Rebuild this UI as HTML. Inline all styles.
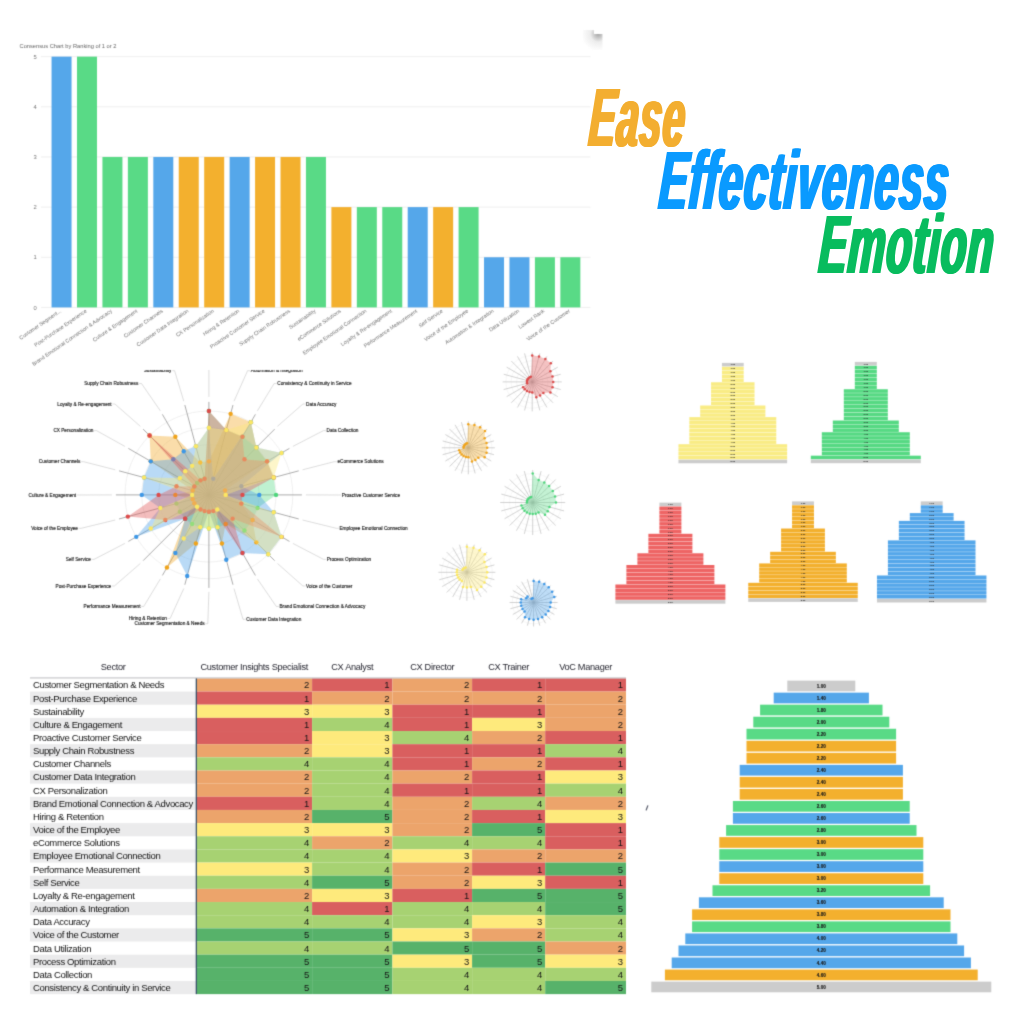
<!DOCTYPE html>
<html lang="en"><head><meta charset="utf-8"><title>Ease Effectiveness Emotion</title>
<style>
html,body{margin:0;padding:0;background:#fff;}
body{width:1024px;height:1024px;position:relative;overflow:hidden;font-family:"Liberation Sans",sans-serif;}
.abs{position:absolute;display:block;}
svg text{font-family:"Liberation Sans",sans-serif;}
.ttl{font-size:83px;line-height:normal;font-weight:bold;font-style:italic;transform-origin:0 75.1px;white-space:nowrap;}
.tbl{font-size:9.5px;color:#141414;letter-spacing:-0.36px;}
.tbl div{position:absolute;box-sizing:border-box;white-space:nowrap;}
.th{text-align:center;height:14px;line-height:14px;font-size:9.2px;color:#262630;letter-spacing:-0.3px;}
.td{height:13.26px;line-height:14.5px;overflow:hidden;}
.sec{padding-left:3px;text-align:left;}
.num{text-align:right;padding-right:3.2px;}
.hl{height:1px;background:#b9b9b9;}
.vl{width:1.2px;background:#2f4a63;}
.corner{left:583px;top:30px;width:19.5px;height:20px;background:radial-gradient(circle at 76% 20%,rgba(105,105,105,.6),rgba(165,165,165,.2) 36%,rgba(255,255,255,0) 78%);clip-path:polygon(0 0,56% 0,56% 20%,100% 20%,100% 100%,0 100%);}
.blur{position:absolute;left:0;top:0;width:1024px;height:1024px;overflow:hidden;filter:url(#soft);}
</style></head><body>
<svg width="0" height="0" style="position:absolute"><filter id="soft" x="0" y="0" width="100%" height="100%" color-interpolation-filters="sRGB"><feConvolveMatrix order="3" kernelMatrix="0.0192 0.1001 0.0192 0.1001 0.5228 0.1001 0.0192 0.1001 0.0192" edgeMode="duplicate"/></filter></svg>
<div class="blur">
<svg class="abs" style="left:0;top:0" width="640" height="375" viewBox="0 0 640 375">
<text x="19.5" y="48" font-size="5.72" fill="#666">Consensus Chart by Ranking of 1 or 2</text>
<line x1="41" x2="590.5" y1="307.4" y2="307.4" stroke="#efefef" stroke-width="1"/>
<text x="35" y="309.5" font-size="5.8" fill="#777" text-anchor="middle">0</text>
<line x1="41" x2="590.5" y1="257.25" y2="257.25" stroke="#efefef" stroke-width="1"/>
<text x="35" y="259.35" font-size="5.8" fill="#777" text-anchor="middle">1</text>
<line x1="41" x2="590.5" y1="207.1" y2="207.1" stroke="#efefef" stroke-width="1"/>
<text x="35" y="209.2" font-size="5.8" fill="#777" text-anchor="middle">2</text>
<line x1="41" x2="590.5" y1="156.95" y2="156.95" stroke="#efefef" stroke-width="1"/>
<text x="35" y="159.05" font-size="5.8" fill="#777" text-anchor="middle">3</text>
<line x1="41" x2="590.5" y1="106.8" y2="106.8" stroke="#efefef" stroke-width="1"/>
<text x="35" y="108.9" font-size="5.8" fill="#777" text-anchor="middle">4</text>
<line x1="41" x2="590.5" y1="56.65" y2="56.65" stroke="#efefef" stroke-width="1"/>
<text x="35" y="58.75" font-size="5.8" fill="#777" text-anchor="middle">5</text>
<rect x="51.55" y="56.65" width="20" height="250.75" fill="#55a7ea"/>
<rect x="76.99" y="56.65" width="20" height="250.75" fill="#59da86"/>
<rect x="102.43" y="156.95" width="20" height="150.45" fill="#59da86"/>
<rect x="127.87" y="156.95" width="20" height="150.45" fill="#59da86"/>
<rect x="153.31" y="156.95" width="20" height="150.45" fill="#55a7ea"/>
<rect x="178.75" y="156.95" width="20" height="150.45" fill="#f3b02e"/>
<rect x="204.19" y="156.95" width="20" height="150.45" fill="#f3b02e"/>
<rect x="229.63" y="156.95" width="20" height="150.45" fill="#55a7ea"/>
<rect x="255.07" y="156.95" width="20" height="150.45" fill="#f3b02e"/>
<rect x="280.51" y="156.95" width="20" height="150.45" fill="#f3b02e"/>
<rect x="305.95" y="156.95" width="20" height="150.45" fill="#59da86"/>
<rect x="331.39" y="207.1" width="20" height="100.3" fill="#f3b02e"/>
<rect x="356.83" y="207.1" width="20" height="100.3" fill="#59da86"/>
<rect x="382.27" y="207.1" width="20" height="100.3" fill="#59da86"/>
<rect x="407.71" y="207.1" width="20" height="100.3" fill="#55a7ea"/>
<rect x="433.15" y="207.1" width="20" height="100.3" fill="#f3b02e"/>
<rect x="458.59" y="207.1" width="20" height="100.3" fill="#59da86"/>
<rect x="484.03" y="257.25" width="20" height="50.15" fill="#55a7ea"/>
<rect x="509.47" y="257.25" width="20" height="50.15" fill="#55a7ea"/>
<rect x="534.91" y="257.25" width="20" height="50.15" fill="#59da86"/>
<rect x="560.35" y="257.25" width="20" height="50.15" fill="#59da86"/>
<text transform="translate(61.65,311.8) rotate(-34.5)" font-size="5.25" fill="#727272" text-anchor="end">Customer Segment...</text>
<text transform="translate(87.09,311.8) rotate(-34.5)" font-size="5.25" fill="#727272" text-anchor="end">Post-Purchase Experience</text>
<text transform="translate(112.53,311.8) rotate(-34.5)" font-size="5.25" fill="#727272" text-anchor="end">Brand Emotional Connection &amp; Advocacy</text>
<text transform="translate(137.97,311.8) rotate(-34.5)" font-size="5.25" fill="#727272" text-anchor="end">Culture &amp; Engagement</text>
<text transform="translate(163.41,311.8) rotate(-34.5)" font-size="5.25" fill="#727272" text-anchor="end">Customer Channels</text>
<text transform="translate(188.85,311.8) rotate(-34.5)" font-size="5.25" fill="#727272" text-anchor="end">Customer Data Integration</text>
<text transform="translate(214.29,311.8) rotate(-34.5)" font-size="5.25" fill="#727272" text-anchor="end">CX Personalization</text>
<text transform="translate(239.73,311.8) rotate(-34.5)" font-size="5.25" fill="#727272" text-anchor="end">Hiring &amp; Retention</text>
<text transform="translate(265.17,311.8) rotate(-34.5)" font-size="5.25" fill="#727272" text-anchor="end">Proactive Customer Service</text>
<text transform="translate(290.61,311.8) rotate(-34.5)" font-size="5.25" fill="#727272" text-anchor="end">Supply Chain Robustness</text>
<text transform="translate(316.05,311.8) rotate(-34.5)" font-size="5.25" fill="#727272" text-anchor="end">Sustainability</text>
<text transform="translate(341.49,311.8) rotate(-34.5)" font-size="5.25" fill="#727272" text-anchor="end">eCommerce Solutions</text>
<text transform="translate(366.93,311.8) rotate(-34.5)" font-size="5.25" fill="#727272" text-anchor="end">Employee Emotional Connection</text>
<text transform="translate(392.37,311.8) rotate(-34.5)" font-size="5.25" fill="#727272" text-anchor="end">Loyalty &amp; Re-engagement</text>
<text transform="translate(417.81,311.8) rotate(-34.5)" font-size="5.25" fill="#727272" text-anchor="end">Performance Measurement</text>
<text transform="translate(443.25,311.8) rotate(-34.5)" font-size="5.25" fill="#727272" text-anchor="end">Self Service</text>
<text transform="translate(468.69,311.8) rotate(-34.5)" font-size="5.25" fill="#727272" text-anchor="end">Voice of the Employee</text>
<text transform="translate(494.13,311.8) rotate(-34.5)" font-size="5.25" fill="#727272" text-anchor="end">Automation &amp; Integration</text>
<text transform="translate(519.57,311.8) rotate(-34.5)" font-size="5.25" fill="#727272" text-anchor="end">Data Utilization</text>
<text transform="translate(545.01,311.8) rotate(-34.5)" font-size="5.25" fill="#727272" text-anchor="end">Lowest Rank</text>
<text transform="translate(570.45,311.8) rotate(-34.5)" font-size="5.25" fill="#727272" text-anchor="end">Voice of the Customer</text>
</svg>
<div class="abs corner"></div>
<svg class="abs" style="left:0;top:369.7px" width="425" height="270.3" viewBox="0 369.7 425 270.3">
<circle cx="208.9" cy="494.6" r="16.78" fill="none" stroke="#ebebeb" stroke-width="0.75"/>
<circle cx="208.9" cy="494.6" r="33.56" fill="none" stroke="#ebebeb" stroke-width="0.75"/>
<circle cx="208.9" cy="494.6" r="50.34" fill="none" stroke="#ebebeb" stroke-width="0.75"/>
<circle cx="208.9" cy="494.6" r="67.12" fill="none" stroke="#ebebeb" stroke-width="0.75"/>
<circle cx="208.9" cy="494.6" r="83.9" fill="none" stroke="#ebebeb" stroke-width="0.75"/>
<line x1="208.9" y1="494.6" x2="208.9" y2="401.6" stroke="#8a8a8a" stroke-width="0.7"/>
<line x1="208.9" y1="494.6" x2="232.97" y2="404.77" stroke="#8a8a8a" stroke-width="0.7"/>
<polyline points="234.01,400.91 247.6,370.39 250,370.39" fill="none" stroke="#cfcfcf" stroke-width="0.7"/>
<text x="250.8" y="372.09" font-size="4.72" fill="#222" text-anchor="start" stroke="#222" stroke-width="0.15">Automation &amp; Integration</text>
<line x1="208.9" y1="494.6" x2="255.4" y2="414.06" stroke="#8a8a8a" stroke-width="0.7"/>
<polyline points="257.4,410.6 274.1,383.24 276.5,383.24" fill="none" stroke="#cfcfcf" stroke-width="0.7"/>
<text x="277.3" y="384.94" font-size="4.72" fill="#222" text-anchor="start" stroke="#222" stroke-width="0.15">Consistency &amp; Continuity in Service</text>
<line x1="208.9" y1="494.6" x2="274.66" y2="428.84" stroke="#8a8a8a" stroke-width="0.7"/>
<polyline points="277.49,426.01 302.9,403.7 305.3,403.7" fill="none" stroke="#cfcfcf" stroke-width="0.7"/>
<text x="306.1" y="405.4" font-size="4.72" fill="#222" text-anchor="start" stroke="#222" stroke-width="0.15">Data Accuracy</text>
<line x1="208.9" y1="494.6" x2="289.44" y2="448.1" stroke="#8a8a8a" stroke-width="0.7"/>
<polyline points="292.9,446.1 323.4,430.35 325.8,430.35" fill="none" stroke="#cfcfcf" stroke-width="0.7"/>
<text x="326.6" y="432.05" font-size="4.72" fill="#222" text-anchor="start" stroke="#222" stroke-width="0.15">Data Collection</text>
<line x1="208.9" y1="494.6" x2="298.73" y2="470.53" stroke="#8a8a8a" stroke-width="0.7"/>
<polyline points="302.59,469.49 334.2,461.39 336.6,461.39" fill="none" stroke="#cfcfcf" stroke-width="0.7"/>
<text x="337.4" y="463.09" font-size="4.72" fill="#222" text-anchor="start" stroke="#222" stroke-width="0.15">eCommerce Solutions</text>
<line x1="208.9" y1="494.6" x2="301.9" y2="494.6" stroke="#8a8a8a" stroke-width="0.7"/>
<polyline points="305.9,494.6 338.6,494.7 341,494.7" fill="none" stroke="#cfcfcf" stroke-width="0.7"/>
<text x="341.8" y="496.4" font-size="4.72" fill="#222" text-anchor="start" stroke="#222" stroke-width="0.15">Proactive Customer Service</text>
<line x1="208.9" y1="494.6" x2="298.73" y2="518.67" stroke="#8a8a8a" stroke-width="0.7"/>
<polyline points="302.59,519.71 336.3,528.01 338.7,528.01" fill="none" stroke="#cfcfcf" stroke-width="0.7"/>
<text x="339.5" y="529.71" font-size="4.72" fill="#222" text-anchor="start" stroke="#222" stroke-width="0.15">Employee Emotional Connection</text>
<line x1="208.9" y1="494.6" x2="289.44" y2="541.1" stroke="#8a8a8a" stroke-width="0.7"/>
<polyline points="292.9,543.1 323.5,559.05 325.9,559.05" fill="none" stroke="#cfcfcf" stroke-width="0.7"/>
<text x="326.7" y="560.75" font-size="4.72" fill="#222" text-anchor="start" stroke="#222" stroke-width="0.15">Process Optimization</text>
<line x1="208.9" y1="494.6" x2="274.66" y2="560.36" stroke="#8a8a8a" stroke-width="0.7"/>
<polyline points="277.49,563.19 302.9,585.7 305.3,585.7" fill="none" stroke="#cfcfcf" stroke-width="0.7"/>
<text x="306.1" y="587.4" font-size="4.72" fill="#222" text-anchor="start" stroke="#222" stroke-width="0.15">Voice of the Customer</text>
<line x1="208.9" y1="494.6" x2="255.4" y2="575.14" stroke="#8a8a8a" stroke-width="0.7"/>
<polyline points="257.4,578.6 276.3,606.16 278.7,606.16" fill="none" stroke="#cfcfcf" stroke-width="0.7"/>
<text x="279.5" y="607.86" font-size="4.72" fill="#222" text-anchor="start" stroke="#222" stroke-width="0.15">Brand Emotional Connection &amp; Advocacy</text>
<line x1="208.9" y1="494.6" x2="232.97" y2="584.43" stroke="#8a8a8a" stroke-width="0.7"/>
<polyline points="234.01,588.29 243,619.01 245.4,619.01" fill="none" stroke="#cfcfcf" stroke-width="0.7"/>
<text x="246.2" y="620.71" font-size="4.72" fill="#222" text-anchor="start" stroke="#222" stroke-width="0.15">Customer Data Integration</text>
<line x1="208.9" y1="494.6" x2="208.9" y2="587.6" stroke="#8a8a8a" stroke-width="0.7"/>
<polyline points="208.9,591.6 207.8,623.4 205.4,623.4" fill="none" stroke="#cfcfcf" stroke-width="0.7"/>
<text x="204.6" y="625.1" font-size="4.72" fill="#222" text-anchor="end" stroke="#222" stroke-width="0.15">Customer Segmentation &amp; Needs</text>
<line x1="208.9" y1="494.6" x2="184.83" y2="584.43" stroke="#8a8a8a" stroke-width="0.7"/>
<polyline points="183.79,588.29 170.1,618.21 167.7,618.21" fill="none" stroke="#cfcfcf" stroke-width="0.7"/>
<text x="166.9" y="619.91" font-size="4.72" fill="#222" text-anchor="end" stroke="#222" stroke-width="0.15">Hiring &amp; Retention</text>
<line x1="208.9" y1="494.6" x2="162.4" y2="575.14" stroke="#8a8a8a" stroke-width="0.7"/>
<polyline points="160.4,578.6 143.7,606.16 141.3,606.16" fill="none" stroke="#cfcfcf" stroke-width="0.7"/>
<text x="140.5" y="607.86" font-size="4.72" fill="#222" text-anchor="end" stroke="#222" stroke-width="0.15">Performance Measurement</text>
<line x1="208.9" y1="494.6" x2="143.14" y2="560.36" stroke="#8a8a8a" stroke-width="0.7"/>
<polyline points="140.31,563.19 114.4,585.7 112,585.7" fill="none" stroke="#cfcfcf" stroke-width="0.7"/>
<text x="111.2" y="587.4" font-size="4.72" fill="#222" text-anchor="end" stroke="#222" stroke-width="0.15">Post-Purchase Experience</text>
<line x1="208.9" y1="494.6" x2="128.36" y2="541.1" stroke="#8a8a8a" stroke-width="0.7"/>
<polyline points="124.9,543.1 94.1,559.05 91.7,559.05" fill="none" stroke="#cfcfcf" stroke-width="0.7"/>
<text x="90.9" y="560.75" font-size="4.72" fill="#222" text-anchor="end" stroke="#222" stroke-width="0.15">Self Service</text>
<line x1="208.9" y1="494.6" x2="119.07" y2="518.67" stroke="#8a8a8a" stroke-width="0.7"/>
<polyline points="115.21,519.71 81.2,528.01 78.8,528.01" fill="none" stroke="#cfcfcf" stroke-width="0.7"/>
<text x="78" y="529.71" font-size="4.72" fill="#222" text-anchor="end" stroke="#222" stroke-width="0.15">Voice of the Employee</text>
<line x1="208.9" y1="494.6" x2="115.9" y2="494.6" stroke="#8a8a8a" stroke-width="0.7"/>
<polyline points="111.9,494.6 79.4,494.7 77,494.7" fill="none" stroke="#cfcfcf" stroke-width="0.7"/>
<text x="76.2" y="496.4" font-size="4.72" fill="#222" text-anchor="end" stroke="#222" stroke-width="0.15">Culture &amp; Engagement</text>
<line x1="208.9" y1="494.6" x2="119.07" y2="470.53" stroke="#8a8a8a" stroke-width="0.7"/>
<polyline points="115.21,469.49 83.6,461.39 81.2,461.39" fill="none" stroke="#cfcfcf" stroke-width="0.7"/>
<text x="80.4" y="463.09" font-size="4.72" fill="#222" text-anchor="end" stroke="#222" stroke-width="0.15">Customer Channels</text>
<line x1="208.9" y1="494.6" x2="128.36" y2="448.1" stroke="#8a8a8a" stroke-width="0.7"/>
<polyline points="124.9,446.1 96.6,430.35 94.2,430.35" fill="none" stroke="#cfcfcf" stroke-width="0.7"/>
<text x="93.4" y="432.05" font-size="4.72" fill="#222" text-anchor="end" stroke="#222" stroke-width="0.15">CX Personalization</text>
<line x1="208.9" y1="494.6" x2="143.14" y2="428.84" stroke="#8a8a8a" stroke-width="0.7"/>
<polyline points="140.31,426.01 114.9,403.7 112.5,403.7" fill="none" stroke="#cfcfcf" stroke-width="0.7"/>
<text x="111.7" y="405.4" font-size="4.72" fill="#222" text-anchor="end" stroke="#222" stroke-width="0.15">Loyalty &amp; Re-engagement</text>
<line x1="208.9" y1="494.6" x2="162.4" y2="414.06" stroke="#8a8a8a" stroke-width="0.7"/>
<polyline points="160.4,410.6 141.5,383.24 139.1,383.24" fill="none" stroke="#cfcfcf" stroke-width="0.7"/>
<text x="138.3" y="384.94" font-size="4.72" fill="#222" text-anchor="end" stroke="#222" stroke-width="0.15">Supply Chain Robustness</text>
<line x1="208.9" y1="494.6" x2="184.83" y2="404.77" stroke="#8a8a8a" stroke-width="0.7"/>
<polyline points="183.79,400.91 174.6,370.39 172.2,370.39" fill="none" stroke="#cfcfcf" stroke-width="0.7"/>
<text x="171.4" y="372.09" font-size="4.72" fill="#222" text-anchor="end" stroke="#222" stroke-width="0.15">Sustainability</text>
<line x1="208.9" y1="369" x2="208.9" y2="396.6" stroke="#cfcfcf" stroke-width="0.7"/>
<polygon points="208.9,461.04 230.61,413.56 250.85,421.94 256.36,447.14 267.03,461.04 225.11,490.26 225.68,494.6 241.32,503.29 252.5,519.77 256.36,542.06 225.68,523.66 221.93,543.22 208.9,511.38 195.87,543.22 166.95,567.26 185.17,518.33 194.37,502.99 192.69,498.94 175.34,494.6 192.69,490.26 150.77,461.04 149.57,435.27 175.34,436.47 200.21,462.18" fill="#f2ab2a" fill-opacity="0.4"/>
<polygon points="208.9,410.7 226.27,429.77 242.46,436.47 256.36,447.14 267.03,461.04 273.73,477.23 276.02,494.6 257.52,507.63 252.5,519.77 244.5,530.2 225.68,523.66 217.59,527.02 208.9,528.16 200.21,527.02 192.12,523.66 185.17,518.33 179.84,511.38 176.48,503.29 192.12,494.6 192.69,490.26 194.37,486.21 197.03,482.73 200.51,480.07 204.56,478.39" fill="#5fdc8b" fill-opacity="0.4"/>
<polygon points="208.9,427.48 213.24,478.39 250.85,421.94 256.36,447.14 281.56,452.65 241.32,485.91 259.24,494.6 273.73,511.97 281.56,536.55 268.23,553.93 242.46,552.73 226.27,559.43 208.9,511.38 187.19,575.64 175.34,552.73 185.17,518.33 136.24,536.55 160.28,507.63 141.78,494.6 144.07,477.23 150.77,461.04 173.3,459 183.73,451 195.87,445.98" fill="#4fa3e8" fill-opacity="0.4"/>
<circle cx="208.9" cy="410.7" r="2.2" fill="#4fd67c"/>
<circle cx="226.27" cy="429.77" r="2.2" fill="#4fd67c"/>
<circle cx="242.46" cy="436.47" r="2.2" fill="#4fd67c"/>
<circle cx="256.36" cy="447.14" r="2.2" fill="#4fd67c"/>
<circle cx="267.03" cy="461.04" r="2.2" fill="#4fd67c"/>
<circle cx="273.73" cy="477.23" r="2.2" fill="#4fd67c"/>
<circle cx="276.02" cy="494.6" r="2.2" fill="#4fd67c"/>
<circle cx="257.52" cy="507.63" r="2.2" fill="#4fd67c"/>
<circle cx="252.5" cy="519.77" r="2.2" fill="#4fd67c"/>
<circle cx="244.5" cy="530.2" r="2.2" fill="#4fd67c"/>
<circle cx="225.68" cy="523.66" r="2.2" fill="#4fd67c"/>
<circle cx="217.59" cy="527.02" r="2.2" fill="#4fd67c"/>
<circle cx="208.9" cy="528.16" r="2.2" fill="#4fd67c"/>
<circle cx="200.21" cy="527.02" r="2.2" fill="#4fd67c"/>
<circle cx="192.12" cy="523.66" r="2.2" fill="#4fd67c"/>
<circle cx="185.17" cy="518.33" r="2.2" fill="#4fd67c"/>
<circle cx="179.84" cy="511.38" r="2.2" fill="#4fd67c"/>
<circle cx="176.48" cy="503.29" r="2.2" fill="#4fd67c"/>
<circle cx="192.12" cy="494.6" r="2.2" fill="#4fd67c"/>
<circle cx="192.69" cy="490.26" r="2.2" fill="#4fd67c"/>
<circle cx="194.37" cy="486.21" r="2.2" fill="#4fd67c"/>
<circle cx="197.03" cy="482.73" r="2.2" fill="#4fd67c"/>
<circle cx="200.51" cy="480.07" r="2.2" fill="#4fd67c"/>
<circle cx="204.56" cy="478.39" r="2.2" fill="#4fd67c"/>
<circle cx="208.9" cy="461.04" r="2.2" fill="#f0a41c"/>
<circle cx="230.61" cy="413.56" r="2.2" fill="#f0a41c"/>
<circle cx="250.85" cy="421.94" r="2.2" fill="#f0a41c"/>
<circle cx="256.36" cy="447.14" r="2.2" fill="#f0a41c"/>
<circle cx="267.03" cy="461.04" r="2.2" fill="#f0a41c"/>
<circle cx="225.11" cy="490.26" r="2.2" fill="#f0a41c"/>
<circle cx="225.68" cy="494.6" r="2.2" fill="#f0a41c"/>
<circle cx="241.32" cy="503.29" r="2.2" fill="#f0a41c"/>
<circle cx="252.5" cy="519.77" r="2.2" fill="#f0a41c"/>
<circle cx="256.36" cy="542.06" r="2.2" fill="#f0a41c"/>
<circle cx="225.68" cy="523.66" r="2.2" fill="#f0a41c"/>
<circle cx="221.93" cy="543.22" r="2.2" fill="#f0a41c"/>
<circle cx="208.9" cy="511.38" r="2.2" fill="#f0a41c"/>
<circle cx="195.87" cy="543.22" r="2.2" fill="#f0a41c"/>
<circle cx="166.95" cy="567.26" r="2.2" fill="#f0a41c"/>
<circle cx="185.17" cy="518.33" r="2.2" fill="#f0a41c"/>
<circle cx="194.37" cy="502.99" r="2.2" fill="#f0a41c"/>
<circle cx="192.69" cy="498.94" r="2.2" fill="#f0a41c"/>
<circle cx="175.34" cy="494.6" r="2.2" fill="#f0a41c"/>
<circle cx="192.69" cy="490.26" r="2.2" fill="#f0a41c"/>
<circle cx="150.77" cy="461.04" r="2.2" fill="#f0a41c"/>
<circle cx="149.57" cy="435.27" r="2.2" fill="#f0a41c"/>
<circle cx="175.34" cy="436.47" r="2.2" fill="#f0a41c"/>
<circle cx="200.21" cy="462.18" r="2.2" fill="#f0a41c"/>
<circle cx="208.9" cy="427.48" r="2.2" fill="#3d97e6"/>
<circle cx="213.24" cy="478.39" r="2.2" fill="#3d97e6"/>
<circle cx="250.85" cy="421.94" r="2.2" fill="#3d97e6"/>
<circle cx="256.36" cy="447.14" r="2.2" fill="#3d97e6"/>
<circle cx="281.56" cy="452.65" r="2.2" fill="#3d97e6"/>
<circle cx="241.32" cy="485.91" r="2.2" fill="#3d97e6"/>
<circle cx="259.24" cy="494.6" r="2.2" fill="#3d97e6"/>
<circle cx="273.73" cy="511.97" r="2.2" fill="#3d97e6"/>
<circle cx="281.56" cy="536.55" r="2.2" fill="#3d97e6"/>
<circle cx="268.23" cy="553.93" r="2.2" fill="#3d97e6"/>
<circle cx="242.46" cy="552.73" r="2.2" fill="#3d97e6"/>
<circle cx="226.27" cy="559.43" r="2.2" fill="#3d97e6"/>
<circle cx="208.9" cy="511.38" r="2.2" fill="#3d97e6"/>
<circle cx="187.19" cy="575.64" r="2.2" fill="#3d97e6"/>
<circle cx="175.34" cy="552.73" r="2.2" fill="#3d97e6"/>
<circle cx="185.17" cy="518.33" r="2.2" fill="#3d97e6"/>
<circle cx="136.24" cy="536.55" r="2.2" fill="#3d97e6"/>
<circle cx="160.28" cy="507.63" r="2.2" fill="#3d97e6"/>
<circle cx="141.78" cy="494.6" r="2.2" fill="#3d97e6"/>
<circle cx="144.07" cy="477.23" r="2.2" fill="#3d97e6"/>
<circle cx="150.77" cy="461.04" r="2.2" fill="#3d97e6"/>
<circle cx="173.3" cy="459" r="2.2" fill="#3d97e6"/>
<circle cx="183.73" cy="451" r="2.2" fill="#3d97e6"/>
<circle cx="195.87" cy="445.98" r="2.2" fill="#3d97e6"/>
<polygon points="208.9,410.7 226.27,429.77 242.46,436.47 244.5,459 267.03,461.04 273.73,477.23 242.46,494.6 241.32,503.29 281.56,536.55 232.63,518.33 242.46,552.73 213.24,510.81 208.9,511.38 204.56,510.81 200.51,509.13 185.17,518.33 165.3,519.77 127.86,516.31 158.56,494.6 176.48,485.91 194.37,486.21 149.57,435.27 200.51,480.07 204.56,478.39" fill="#e05a5a" fill-opacity="0.4"/>
<circle cx="208.9" cy="410.7" r="2.2" fill="#dc4c4c"/>
<circle cx="226.27" cy="429.77" r="2.2" fill="#dc4c4c"/>
<circle cx="242.46" cy="436.47" r="2.2" fill="#dc4c4c"/>
<circle cx="244.5" cy="459" r="2.2" fill="#dc4c4c"/>
<circle cx="267.03" cy="461.04" r="2.2" fill="#dc4c4c"/>
<circle cx="273.73" cy="477.23" r="2.2" fill="#dc4c4c"/>
<circle cx="242.46" cy="494.6" r="2.2" fill="#dc4c4c"/>
<circle cx="241.32" cy="503.29" r="2.2" fill="#dc4c4c"/>
<circle cx="281.56" cy="536.55" r="2.2" fill="#dc4c4c"/>
<circle cx="232.63" cy="518.33" r="2.2" fill="#dc4c4c"/>
<circle cx="242.46" cy="552.73" r="2.2" fill="#dc4c4c"/>
<circle cx="213.24" cy="510.81" r="2.2" fill="#dc4c4c"/>
<circle cx="208.9" cy="511.38" r="2.2" fill="#dc4c4c"/>
<circle cx="204.56" cy="510.81" r="2.2" fill="#dc4c4c"/>
<circle cx="200.51" cy="509.13" r="2.2" fill="#dc4c4c"/>
<circle cx="185.17" cy="518.33" r="2.2" fill="#dc4c4c"/>
<circle cx="165.3" cy="519.77" r="2.2" fill="#dc4c4c"/>
<circle cx="127.86" cy="516.31" r="2.2" fill="#dc4c4c"/>
<circle cx="158.56" cy="494.6" r="2.2" fill="#dc4c4c"/>
<circle cx="176.48" cy="485.91" r="2.2" fill="#dc4c4c"/>
<circle cx="194.37" cy="486.21" r="2.2" fill="#dc4c4c"/>
<circle cx="149.57" cy="435.27" r="2.2" fill="#dc4c4c"/>
<circle cx="200.51" cy="480.07" r="2.2" fill="#dc4c4c"/>
<circle cx="204.56" cy="478.39" r="2.2" fill="#dc4c4c"/>
<polygon points="208.9,427.48 226.27,429.77 250.85,421.94 256.36,447.14 281.56,452.65 273.73,477.23 225.68,494.6 273.73,511.97 281.56,536.55 268.23,553.93 217.29,509.13 217.59,527.02 208.9,528.16 200.21,527.02 183.73,538.2 197.03,506.47 150.77,528.16 160.28,507.63 192.12,494.6 144.07,477.23 179.84,477.82 185.17,470.87 192.12,465.54 195.87,445.98" fill="#fbe97a" fill-opacity="0.4"/>
<circle cx="208.9" cy="427.48" r="2.2" fill="#fbe764"/>
<circle cx="226.27" cy="429.77" r="2.2" fill="#fbe764"/>
<circle cx="250.85" cy="421.94" r="2.2" fill="#fbe764"/>
<circle cx="256.36" cy="447.14" r="2.2" fill="#fbe764"/>
<circle cx="281.56" cy="452.65" r="2.2" fill="#fbe764"/>
<circle cx="273.73" cy="477.23" r="2.2" fill="#fbe764"/>
<circle cx="225.68" cy="494.6" r="2.2" fill="#fbe764"/>
<circle cx="273.73" cy="511.97" r="2.2" fill="#fbe764"/>
<circle cx="281.56" cy="536.55" r="2.2" fill="#fbe764"/>
<circle cx="268.23" cy="553.93" r="2.2" fill="#fbe764"/>
<circle cx="217.29" cy="509.13" r="2.2" fill="#fbe764"/>
<circle cx="217.59" cy="527.02" r="2.2" fill="#fbe764"/>
<circle cx="208.9" cy="528.16" r="2.2" fill="#fbe764"/>
<circle cx="200.21" cy="527.02" r="2.2" fill="#fbe764"/>
<circle cx="183.73" cy="538.2" r="2.2" fill="#fbe764"/>
<circle cx="197.03" cy="506.47" r="2.2" fill="#fbe764"/>
<circle cx="150.77" cy="528.16" r="2.2" fill="#fbe764"/>
<circle cx="160.28" cy="507.63" r="2.2" fill="#fbe764"/>
<circle cx="192.12" cy="494.6" r="2.2" fill="#fbe764"/>
<circle cx="144.07" cy="477.23" r="2.2" fill="#fbe764"/>
<circle cx="179.84" cy="477.82" r="2.2" fill="#fbe764"/>
<circle cx="185.17" cy="470.87" r="2.2" fill="#fbe764"/>
<circle cx="192.12" cy="465.54" r="2.2" fill="#fbe764"/>
<circle cx="195.87" cy="445.98" r="2.2" fill="#fbe764"/>
</svg>
<svg class="abs" style="left:420px;top:340px" width="200" height="300" viewBox="420 340 200 300">
<circle cx="532.2" cy="381.9" r="5.27" fill="none" stroke="#efefef" stroke-width="0.5"/>
<circle cx="532.2" cy="381.9" r="10.54" fill="none" stroke="#efefef" stroke-width="0.5"/>
<circle cx="532.2" cy="381.9" r="15.8" fill="none" stroke="#efefef" stroke-width="0.5"/>
<circle cx="532.2" cy="381.9" r="21.07" fill="none" stroke="#efefef" stroke-width="0.5"/>
<circle cx="532.2" cy="381.9" r="26.34" fill="none" stroke="#efefef" stroke-width="0.5"/>
<line x1="532.2" y1="381.9" x2="532.2" y2="352.4" stroke="#b4b4b4" stroke-width="0.6"/>
<line x1="532.2" y1="381.9" x2="539.84" y2="353.41" stroke="#b4b4b4" stroke-width="0.6"/>
<line x1="532.2" y1="381.9" x2="546.95" y2="356.35" stroke="#b4b4b4" stroke-width="0.6"/>
<line x1="532.2" y1="381.9" x2="553.06" y2="361.04" stroke="#b4b4b4" stroke-width="0.6"/>
<line x1="532.2" y1="381.9" x2="557.75" y2="367.15" stroke="#b4b4b4" stroke-width="0.6"/>
<line x1="532.2" y1="381.9" x2="560.69" y2="374.26" stroke="#b4b4b4" stroke-width="0.6"/>
<line x1="532.2" y1="381.9" x2="561.7" y2="381.9" stroke="#b4b4b4" stroke-width="0.6"/>
<line x1="532.2" y1="381.9" x2="560.69" y2="389.54" stroke="#b4b4b4" stroke-width="0.6"/>
<line x1="532.2" y1="381.9" x2="557.75" y2="396.65" stroke="#b4b4b4" stroke-width="0.6"/>
<line x1="532.2" y1="381.9" x2="553.06" y2="402.76" stroke="#b4b4b4" stroke-width="0.6"/>
<line x1="532.2" y1="381.9" x2="546.95" y2="407.45" stroke="#b4b4b4" stroke-width="0.6"/>
<line x1="532.2" y1="381.9" x2="539.84" y2="410.39" stroke="#b4b4b4" stroke-width="0.6"/>
<line x1="532.2" y1="381.9" x2="532.2" y2="411.4" stroke="#b4b4b4" stroke-width="0.6"/>
<line x1="532.2" y1="381.9" x2="524.56" y2="410.39" stroke="#b4b4b4" stroke-width="0.6"/>
<line x1="532.2" y1="381.9" x2="517.45" y2="407.45" stroke="#b4b4b4" stroke-width="0.6"/>
<line x1="532.2" y1="381.9" x2="511.34" y2="402.76" stroke="#b4b4b4" stroke-width="0.6"/>
<line x1="532.2" y1="381.9" x2="506.65" y2="396.65" stroke="#b4b4b4" stroke-width="0.6"/>
<line x1="532.2" y1="381.9" x2="503.71" y2="389.54" stroke="#b4b4b4" stroke-width="0.6"/>
<line x1="532.2" y1="381.9" x2="502.7" y2="381.9" stroke="#b4b4b4" stroke-width="0.6"/>
<line x1="532.2" y1="381.9" x2="503.71" y2="374.26" stroke="#b4b4b4" stroke-width="0.6"/>
<line x1="532.2" y1="381.9" x2="506.65" y2="367.15" stroke="#b4b4b4" stroke-width="0.6"/>
<line x1="532.2" y1="381.9" x2="511.34" y2="361.04" stroke="#b4b4b4" stroke-width="0.6"/>
<line x1="532.2" y1="381.9" x2="517.45" y2="356.35" stroke="#b4b4b4" stroke-width="0.6"/>
<line x1="532.2" y1="381.9" x2="524.56" y2="353.41" stroke="#b4b4b4" stroke-width="0.6"/>
<polygon points="532.2,355.56 539.02,356.46 545.37,359.09 550.82,363.28 550.45,371.36 552.55,376.45 553.27,381.9 552.55,387.35 550.45,392.44 543.37,393.07 540.1,395.59 536.29,397.17 532.2,392.44 529.47,392.08 526.93,391.02 524.75,389.35 523.08,387.17 527.11,383.26 526.93,381.9 527.11,380.54 527.64,379.27 528.48,378.18 529.57,377.34 530.84,376.81" fill="#e05a5a" fill-opacity="0.37"/>
<circle cx="532.2" cy="355.56" r="1.25" fill="#dc4c4c"/>
<circle cx="539.02" cy="356.46" r="1.25" fill="#dc4c4c"/>
<circle cx="545.37" cy="359.09" r="1.25" fill="#dc4c4c"/>
<circle cx="550.82" cy="363.28" r="1.25" fill="#dc4c4c"/>
<circle cx="550.45" cy="371.36" r="1.25" fill="#dc4c4c"/>
<circle cx="552.55" cy="376.45" r="1.25" fill="#dc4c4c"/>
<circle cx="553.27" cy="381.9" r="1.25" fill="#dc4c4c"/>
<circle cx="552.55" cy="387.35" r="1.25" fill="#dc4c4c"/>
<circle cx="550.45" cy="392.44" r="1.25" fill="#dc4c4c"/>
<circle cx="543.37" cy="393.07" r="1.25" fill="#dc4c4c"/>
<circle cx="540.1" cy="395.59" r="1.25" fill="#dc4c4c"/>
<circle cx="536.29" cy="397.17" r="1.25" fill="#dc4c4c"/>
<circle cx="532.2" cy="392.44" r="1.25" fill="#dc4c4c"/>
<circle cx="529.47" cy="392.08" r="1.25" fill="#dc4c4c"/>
<circle cx="526.93" cy="391.02" r="1.25" fill="#dc4c4c"/>
<circle cx="524.75" cy="389.35" r="1.25" fill="#dc4c4c"/>
<circle cx="523.08" cy="387.17" r="1.25" fill="#dc4c4c"/>
<circle cx="527.11" cy="383.26" r="1.25" fill="#dc4c4c"/>
<circle cx="526.93" cy="381.9" r="1.25" fill="#dc4c4c"/>
<circle cx="527.11" cy="380.54" r="1.25" fill="#dc4c4c"/>
<circle cx="527.64" cy="379.27" r="1.25" fill="#dc4c4c"/>
<circle cx="528.48" cy="378.18" r="1.25" fill="#dc4c4c"/>
<circle cx="529.57" cy="377.34" r="1.25" fill="#dc4c4c"/>
<circle cx="530.84" cy="376.81" r="1.25" fill="#dc4c4c"/>
<circle cx="468.3" cy="447.8" r="4.73" fill="none" stroke="#efefef" stroke-width="0.5"/>
<circle cx="468.3" cy="447.8" r="9.46" fill="none" stroke="#efefef" stroke-width="0.5"/>
<circle cx="468.3" cy="447.8" r="14.2" fill="none" stroke="#efefef" stroke-width="0.5"/>
<circle cx="468.3" cy="447.8" r="18.93" fill="none" stroke="#efefef" stroke-width="0.5"/>
<circle cx="468.3" cy="447.8" r="23.66" fill="none" stroke="#efefef" stroke-width="0.5"/>
<line x1="468.3" y1="447.8" x2="468.3" y2="421.3" stroke="#b4b4b4" stroke-width="0.6"/>
<line x1="468.3" y1="447.8" x2="475.16" y2="422.2" stroke="#b4b4b4" stroke-width="0.6"/>
<line x1="468.3" y1="447.8" x2="481.55" y2="424.85" stroke="#b4b4b4" stroke-width="0.6"/>
<line x1="468.3" y1="447.8" x2="487.04" y2="429.06" stroke="#b4b4b4" stroke-width="0.6"/>
<line x1="468.3" y1="447.8" x2="491.25" y2="434.55" stroke="#b4b4b4" stroke-width="0.6"/>
<line x1="468.3" y1="447.8" x2="493.9" y2="440.94" stroke="#b4b4b4" stroke-width="0.6"/>
<line x1="468.3" y1="447.8" x2="494.8" y2="447.8" stroke="#b4b4b4" stroke-width="0.6"/>
<line x1="468.3" y1="447.8" x2="493.9" y2="454.66" stroke="#b4b4b4" stroke-width="0.6"/>
<line x1="468.3" y1="447.8" x2="491.25" y2="461.05" stroke="#b4b4b4" stroke-width="0.6"/>
<line x1="468.3" y1="447.8" x2="487.04" y2="466.54" stroke="#b4b4b4" stroke-width="0.6"/>
<line x1="468.3" y1="447.8" x2="481.55" y2="470.75" stroke="#b4b4b4" stroke-width="0.6"/>
<line x1="468.3" y1="447.8" x2="475.16" y2="473.4" stroke="#b4b4b4" stroke-width="0.6"/>
<line x1="468.3" y1="447.8" x2="468.3" y2="474.3" stroke="#b4b4b4" stroke-width="0.6"/>
<line x1="468.3" y1="447.8" x2="461.44" y2="473.4" stroke="#b4b4b4" stroke-width="0.6"/>
<line x1="468.3" y1="447.8" x2="455.05" y2="470.75" stroke="#b4b4b4" stroke-width="0.6"/>
<line x1="468.3" y1="447.8" x2="449.56" y2="466.54" stroke="#b4b4b4" stroke-width="0.6"/>
<line x1="468.3" y1="447.8" x2="445.35" y2="461.05" stroke="#b4b4b4" stroke-width="0.6"/>
<line x1="468.3" y1="447.8" x2="442.7" y2="454.66" stroke="#b4b4b4" stroke-width="0.6"/>
<line x1="468.3" y1="447.8" x2="441.8" y2="447.8" stroke="#b4b4b4" stroke-width="0.6"/>
<line x1="468.3" y1="447.8" x2="442.7" y2="440.94" stroke="#b4b4b4" stroke-width="0.6"/>
<line x1="468.3" y1="447.8" x2="445.35" y2="434.55" stroke="#b4b4b4" stroke-width="0.6"/>
<line x1="468.3" y1="447.8" x2="449.56" y2="429.06" stroke="#b4b4b4" stroke-width="0.6"/>
<line x1="468.3" y1="447.8" x2="455.05" y2="424.85" stroke="#b4b4b4" stroke-width="0.6"/>
<line x1="468.3" y1="447.8" x2="461.44" y2="422.2" stroke="#b4b4b4" stroke-width="0.6"/>
<polygon points="468.3,424.14 474.42,424.95 480.13,427.31 485.03,431.07 484.69,438.34 486.58,442.9 487.23,447.8 486.58,452.7 484.69,457.26 478.34,457.84 475.4,460.09 471.97,461.51 468.3,457.26 465.85,456.94 463.57,456 461.61,454.49 460.1,452.53 459.16,450.25 463.57,447.8 463.73,446.58 464.2,445.43 464.95,444.45 465.93,443.7 467.08,443.23" fill="#f2ab2a" fill-opacity="0.37"/>
<circle cx="468.3" cy="424.14" r="1.25" fill="#f0a41c"/>
<circle cx="474.42" cy="424.95" r="1.25" fill="#f0a41c"/>
<circle cx="480.13" cy="427.31" r="1.25" fill="#f0a41c"/>
<circle cx="485.03" cy="431.07" r="1.25" fill="#f0a41c"/>
<circle cx="484.69" cy="438.34" r="1.25" fill="#f0a41c"/>
<circle cx="486.58" cy="442.9" r="1.25" fill="#f0a41c"/>
<circle cx="487.23" cy="447.8" r="1.25" fill="#f0a41c"/>
<circle cx="486.58" cy="452.7" r="1.25" fill="#f0a41c"/>
<circle cx="484.69" cy="457.26" r="1.25" fill="#f0a41c"/>
<circle cx="478.34" cy="457.84" r="1.25" fill="#f0a41c"/>
<circle cx="475.4" cy="460.09" r="1.25" fill="#f0a41c"/>
<circle cx="471.97" cy="461.51" r="1.25" fill="#f0a41c"/>
<circle cx="468.3" cy="457.26" r="1.25" fill="#f0a41c"/>
<circle cx="465.85" cy="456.94" r="1.25" fill="#f0a41c"/>
<circle cx="463.57" cy="456" r="1.25" fill="#f0a41c"/>
<circle cx="461.61" cy="454.49" r="1.25" fill="#f0a41c"/>
<circle cx="460.1" cy="452.53" r="1.25" fill="#f0a41c"/>
<circle cx="459.16" cy="450.25" r="1.25" fill="#f0a41c"/>
<circle cx="463.57" cy="447.8" r="1.25" fill="#f0a41c"/>
<circle cx="463.73" cy="446.58" r="1.25" fill="#f0a41c"/>
<circle cx="464.2" cy="445.43" r="1.25" fill="#f0a41c"/>
<circle cx="464.95" cy="444.45" r="1.25" fill="#f0a41c"/>
<circle cx="465.93" cy="443.7" r="1.25" fill="#f0a41c"/>
<circle cx="467.08" cy="443.23" r="1.25" fill="#f0a41c"/>
<circle cx="532.7" cy="502.5" r="5.8" fill="none" stroke="#efefef" stroke-width="0.5"/>
<circle cx="532.7" cy="502.5" r="11.61" fill="none" stroke="#efefef" stroke-width="0.5"/>
<circle cx="532.7" cy="502.5" r="17.41" fill="none" stroke="#efefef" stroke-width="0.5"/>
<circle cx="532.7" cy="502.5" r="23.21" fill="none" stroke="#efefef" stroke-width="0.5"/>
<circle cx="532.7" cy="502.5" r="29.02" fill="none" stroke="#efefef" stroke-width="0.5"/>
<line x1="532.7" y1="502.5" x2="532.7" y2="470" stroke="#b4b4b4" stroke-width="0.6"/>
<line x1="532.7" y1="502.5" x2="541.11" y2="471.11" stroke="#b4b4b4" stroke-width="0.6"/>
<line x1="532.7" y1="502.5" x2="548.95" y2="474.35" stroke="#b4b4b4" stroke-width="0.6"/>
<line x1="532.7" y1="502.5" x2="555.68" y2="479.52" stroke="#b4b4b4" stroke-width="0.6"/>
<line x1="532.7" y1="502.5" x2="560.85" y2="486.25" stroke="#b4b4b4" stroke-width="0.6"/>
<line x1="532.7" y1="502.5" x2="564.09" y2="494.09" stroke="#b4b4b4" stroke-width="0.6"/>
<line x1="532.7" y1="502.5" x2="565.2" y2="502.5" stroke="#b4b4b4" stroke-width="0.6"/>
<line x1="532.7" y1="502.5" x2="564.09" y2="510.91" stroke="#b4b4b4" stroke-width="0.6"/>
<line x1="532.7" y1="502.5" x2="560.85" y2="518.75" stroke="#b4b4b4" stroke-width="0.6"/>
<line x1="532.7" y1="502.5" x2="555.68" y2="525.48" stroke="#b4b4b4" stroke-width="0.6"/>
<line x1="532.7" y1="502.5" x2="548.95" y2="530.65" stroke="#b4b4b4" stroke-width="0.6"/>
<line x1="532.7" y1="502.5" x2="541.11" y2="533.89" stroke="#b4b4b4" stroke-width="0.6"/>
<line x1="532.7" y1="502.5" x2="532.7" y2="535" stroke="#b4b4b4" stroke-width="0.6"/>
<line x1="532.7" y1="502.5" x2="524.29" y2="533.89" stroke="#b4b4b4" stroke-width="0.6"/>
<line x1="532.7" y1="502.5" x2="516.45" y2="530.65" stroke="#b4b4b4" stroke-width="0.6"/>
<line x1="532.7" y1="502.5" x2="509.72" y2="525.48" stroke="#b4b4b4" stroke-width="0.6"/>
<line x1="532.7" y1="502.5" x2="504.55" y2="518.75" stroke="#b4b4b4" stroke-width="0.6"/>
<line x1="532.7" y1="502.5" x2="501.31" y2="510.91" stroke="#b4b4b4" stroke-width="0.6"/>
<line x1="532.7" y1="502.5" x2="500.2" y2="502.5" stroke="#b4b4b4" stroke-width="0.6"/>
<line x1="532.7" y1="502.5" x2="501.31" y2="494.09" stroke="#b4b4b4" stroke-width="0.6"/>
<line x1="532.7" y1="502.5" x2="504.55" y2="486.25" stroke="#b4b4b4" stroke-width="0.6"/>
<line x1="532.7" y1="502.5" x2="509.72" y2="479.52" stroke="#b4b4b4" stroke-width="0.6"/>
<line x1="532.7" y1="502.5" x2="516.45" y2="474.35" stroke="#b4b4b4" stroke-width="0.6"/>
<line x1="532.7" y1="502.5" x2="524.29" y2="471.11" stroke="#b4b4b4" stroke-width="0.6"/>
<polygon points="532.7,473.48 538.71,480.08 544.31,482.4 549.11,486.09 552.8,490.89 555.12,496.49 555.91,502.5 549.52,507.01 547.78,511.21 545.01,514.81 538.5,512.55 535.7,513.71 532.7,514.11 529.7,513.71 526.9,512.55 524.49,510.71 522.65,508.3 521.49,505.5 526.9,502.5 527.09,501 527.67,499.6 528.6,498.4 529.8,497.47 531.2,496.89" fill="#5fdc8b" fill-opacity="0.37"/>
<circle cx="532.7" cy="473.48" r="1.25" fill="#4fd67c"/>
<circle cx="538.71" cy="480.08" r="1.25" fill="#4fd67c"/>
<circle cx="544.31" cy="482.4" r="1.25" fill="#4fd67c"/>
<circle cx="549.11" cy="486.09" r="1.25" fill="#4fd67c"/>
<circle cx="552.8" cy="490.89" r="1.25" fill="#4fd67c"/>
<circle cx="555.12" cy="496.49" r="1.25" fill="#4fd67c"/>
<circle cx="555.91" cy="502.5" r="1.25" fill="#4fd67c"/>
<circle cx="549.52" cy="507.01" r="1.25" fill="#4fd67c"/>
<circle cx="547.78" cy="511.21" r="1.25" fill="#4fd67c"/>
<circle cx="545.01" cy="514.81" r="1.25" fill="#4fd67c"/>
<circle cx="538.5" cy="512.55" r="1.25" fill="#4fd67c"/>
<circle cx="535.7" cy="513.71" r="1.25" fill="#4fd67c"/>
<circle cx="532.7" cy="514.11" r="1.25" fill="#4fd67c"/>
<circle cx="529.7" cy="513.71" r="1.25" fill="#4fd67c"/>
<circle cx="526.9" cy="512.55" r="1.25" fill="#4fd67c"/>
<circle cx="524.49" cy="510.71" r="1.25" fill="#4fd67c"/>
<circle cx="522.65" cy="508.3" r="1.25" fill="#4fd67c"/>
<circle cx="521.49" cy="505.5" r="1.25" fill="#4fd67c"/>
<circle cx="526.9" cy="502.5" r="1.25" fill="#4fd67c"/>
<circle cx="527.09" cy="501" r="1.25" fill="#4fd67c"/>
<circle cx="527.67" cy="499.6" r="1.25" fill="#4fd67c"/>
<circle cx="528.6" cy="498.4" r="1.25" fill="#4fd67c"/>
<circle cx="529.8" cy="497.47" r="1.25" fill="#4fd67c"/>
<circle cx="531.2" cy="496.89" r="1.25" fill="#4fd67c"/>
<circle cx="466.9" cy="572.3" r="5.09" fill="none" stroke="#efefef" stroke-width="0.5"/>
<circle cx="466.9" cy="572.3" r="10.18" fill="none" stroke="#efefef" stroke-width="0.5"/>
<circle cx="466.9" cy="572.3" r="15.27" fill="none" stroke="#efefef" stroke-width="0.5"/>
<circle cx="466.9" cy="572.3" r="20.36" fill="none" stroke="#efefef" stroke-width="0.5"/>
<circle cx="466.9" cy="572.3" r="25.45" fill="none" stroke="#efefef" stroke-width="0.5"/>
<line x1="466.9" y1="572.3" x2="466.9" y2="543.8" stroke="#b4b4b4" stroke-width="0.6"/>
<line x1="466.9" y1="572.3" x2="474.28" y2="544.77" stroke="#b4b4b4" stroke-width="0.6"/>
<line x1="466.9" y1="572.3" x2="481.15" y2="547.62" stroke="#b4b4b4" stroke-width="0.6"/>
<line x1="466.9" y1="572.3" x2="487.05" y2="552.15" stroke="#b4b4b4" stroke-width="0.6"/>
<line x1="466.9" y1="572.3" x2="491.58" y2="558.05" stroke="#b4b4b4" stroke-width="0.6"/>
<line x1="466.9" y1="572.3" x2="494.43" y2="564.92" stroke="#b4b4b4" stroke-width="0.6"/>
<line x1="466.9" y1="572.3" x2="495.4" y2="572.3" stroke="#b4b4b4" stroke-width="0.6"/>
<line x1="466.9" y1="572.3" x2="494.43" y2="579.68" stroke="#b4b4b4" stroke-width="0.6"/>
<line x1="466.9" y1="572.3" x2="491.58" y2="586.55" stroke="#b4b4b4" stroke-width="0.6"/>
<line x1="466.9" y1="572.3" x2="487.05" y2="592.45" stroke="#b4b4b4" stroke-width="0.6"/>
<line x1="466.9" y1="572.3" x2="481.15" y2="596.98" stroke="#b4b4b4" stroke-width="0.6"/>
<line x1="466.9" y1="572.3" x2="474.28" y2="599.83" stroke="#b4b4b4" stroke-width="0.6"/>
<line x1="466.9" y1="572.3" x2="466.9" y2="600.8" stroke="#b4b4b4" stroke-width="0.6"/>
<line x1="466.9" y1="572.3" x2="459.52" y2="599.83" stroke="#b4b4b4" stroke-width="0.6"/>
<line x1="466.9" y1="572.3" x2="452.65" y2="596.98" stroke="#b4b4b4" stroke-width="0.6"/>
<line x1="466.9" y1="572.3" x2="446.75" y2="592.45" stroke="#b4b4b4" stroke-width="0.6"/>
<line x1="466.9" y1="572.3" x2="442.22" y2="586.55" stroke="#b4b4b4" stroke-width="0.6"/>
<line x1="466.9" y1="572.3" x2="439.37" y2="579.68" stroke="#b4b4b4" stroke-width="0.6"/>
<line x1="466.9" y1="572.3" x2="438.4" y2="572.3" stroke="#b4b4b4" stroke-width="0.6"/>
<line x1="466.9" y1="572.3" x2="439.37" y2="564.92" stroke="#b4b4b4" stroke-width="0.6"/>
<line x1="466.9" y1="572.3" x2="442.22" y2="558.05" stroke="#b4b4b4" stroke-width="0.6"/>
<line x1="466.9" y1="572.3" x2="446.75" y2="552.15" stroke="#b4b4b4" stroke-width="0.6"/>
<line x1="466.9" y1="572.3" x2="452.65" y2="547.62" stroke="#b4b4b4" stroke-width="0.6"/>
<line x1="466.9" y1="572.3" x2="459.52" y2="544.77" stroke="#b4b4b4" stroke-width="0.6"/>
<polygon points="466.9,546.85 473.49,547.72 479.62,550.26 484.89,554.31 484.53,562.12 486.56,567.03 487.26,572.3 486.56,577.57 484.53,582.48 481.29,586.69 477.08,589.93 470.85,587.05 466.9,587.57 462.95,587.05 461.81,581.11 459.7,579.5 458.09,577.39 457.07,574.93 456.72,572.3 457.07,569.67 462.49,569.76 463.3,568.7 464.36,567.89 465.58,567.38" fill="#fbe97a" fill-opacity="0.37"/>
<circle cx="466.9" cy="546.85" r="1.25" fill="#fbe764"/>
<circle cx="473.49" cy="547.72" r="1.25" fill="#fbe764"/>
<circle cx="479.62" cy="550.26" r="1.25" fill="#fbe764"/>
<circle cx="484.89" cy="554.31" r="1.25" fill="#fbe764"/>
<circle cx="484.53" cy="562.12" r="1.25" fill="#fbe764"/>
<circle cx="486.56" cy="567.03" r="1.25" fill="#fbe764"/>
<circle cx="487.26" cy="572.3" r="1.25" fill="#fbe764"/>
<circle cx="486.56" cy="577.57" r="1.25" fill="#fbe764"/>
<circle cx="484.53" cy="582.48" r="1.25" fill="#fbe764"/>
<circle cx="481.29" cy="586.69" r="1.25" fill="#fbe764"/>
<circle cx="477.08" cy="589.93" r="1.25" fill="#fbe764"/>
<circle cx="470.85" cy="587.05" r="1.25" fill="#fbe764"/>
<circle cx="466.9" cy="587.57" r="1.25" fill="#fbe764"/>
<circle cx="462.95" cy="587.05" r="1.25" fill="#fbe764"/>
<circle cx="461.81" cy="581.11" r="1.25" fill="#fbe764"/>
<circle cx="459.7" cy="579.5" r="1.25" fill="#fbe764"/>
<circle cx="458.09" cy="577.39" r="1.25" fill="#fbe764"/>
<circle cx="457.07" cy="574.93" r="1.25" fill="#fbe764"/>
<circle cx="456.72" cy="572.3" r="1.25" fill="#fbe764"/>
<circle cx="457.07" cy="569.67" r="1.25" fill="#fbe764"/>
<circle cx="462.49" cy="569.76" r="1.25" fill="#fbe764"/>
<circle cx="463.3" cy="568.7" r="1.25" fill="#fbe764"/>
<circle cx="464.36" cy="567.89" r="1.25" fill="#fbe764"/>
<circle cx="465.58" cy="567.38" r="1.25" fill="#fbe764"/>
<circle cx="533.6" cy="602.5" r="4.29" fill="none" stroke="#efefef" stroke-width="0.5"/>
<circle cx="533.6" cy="602.5" r="8.57" fill="none" stroke="#efefef" stroke-width="0.5"/>
<circle cx="533.6" cy="602.5" r="12.86" fill="none" stroke="#efefef" stroke-width="0.5"/>
<circle cx="533.6" cy="602.5" r="17.14" fill="none" stroke="#efefef" stroke-width="0.5"/>
<circle cx="533.6" cy="602.5" r="21.43" fill="none" stroke="#efefef" stroke-width="0.5"/>
<line x1="533.6" y1="602.5" x2="533.6" y2="578.5" stroke="#b4b4b4" stroke-width="0.6"/>
<line x1="533.6" y1="602.5" x2="539.81" y2="579.32" stroke="#b4b4b4" stroke-width="0.6"/>
<line x1="533.6" y1="602.5" x2="545.6" y2="581.72" stroke="#b4b4b4" stroke-width="0.6"/>
<line x1="533.6" y1="602.5" x2="550.57" y2="585.53" stroke="#b4b4b4" stroke-width="0.6"/>
<line x1="533.6" y1="602.5" x2="554.38" y2="590.5" stroke="#b4b4b4" stroke-width="0.6"/>
<line x1="533.6" y1="602.5" x2="556.78" y2="596.29" stroke="#b4b4b4" stroke-width="0.6"/>
<line x1="533.6" y1="602.5" x2="557.6" y2="602.5" stroke="#b4b4b4" stroke-width="0.6"/>
<line x1="533.6" y1="602.5" x2="556.78" y2="608.71" stroke="#b4b4b4" stroke-width="0.6"/>
<line x1="533.6" y1="602.5" x2="554.38" y2="614.5" stroke="#b4b4b4" stroke-width="0.6"/>
<line x1="533.6" y1="602.5" x2="550.57" y2="619.47" stroke="#b4b4b4" stroke-width="0.6"/>
<line x1="533.6" y1="602.5" x2="545.6" y2="623.28" stroke="#b4b4b4" stroke-width="0.6"/>
<line x1="533.6" y1="602.5" x2="539.81" y2="625.68" stroke="#b4b4b4" stroke-width="0.6"/>
<line x1="533.6" y1="602.5" x2="533.6" y2="626.5" stroke="#b4b4b4" stroke-width="0.6"/>
<line x1="533.6" y1="602.5" x2="527.39" y2="625.68" stroke="#b4b4b4" stroke-width="0.6"/>
<line x1="533.6" y1="602.5" x2="521.6" y2="623.28" stroke="#b4b4b4" stroke-width="0.6"/>
<line x1="533.6" y1="602.5" x2="516.63" y2="619.47" stroke="#b4b4b4" stroke-width="0.6"/>
<line x1="533.6" y1="602.5" x2="512.82" y2="614.5" stroke="#b4b4b4" stroke-width="0.6"/>
<line x1="533.6" y1="602.5" x2="510.42" y2="608.71" stroke="#b4b4b4" stroke-width="0.6"/>
<line x1="533.6" y1="602.5" x2="509.6" y2="602.5" stroke="#b4b4b4" stroke-width="0.6"/>
<line x1="533.6" y1="602.5" x2="510.42" y2="596.29" stroke="#b4b4b4" stroke-width="0.6"/>
<line x1="533.6" y1="602.5" x2="512.82" y2="590.5" stroke="#b4b4b4" stroke-width="0.6"/>
<line x1="533.6" y1="602.5" x2="516.63" y2="585.53" stroke="#b4b4b4" stroke-width="0.6"/>
<line x1="533.6" y1="602.5" x2="521.6" y2="581.72" stroke="#b4b4b4" stroke-width="0.6"/>
<line x1="533.6" y1="602.5" x2="527.39" y2="579.32" stroke="#b4b4b4" stroke-width="0.6"/>
<polygon points="533.6,581.07 539.15,581.8 544.31,583.94 548.75,587.35 552.16,591.79 554.3,596.95 550.74,602.5 550.16,606.94 548.45,611.07 545.72,614.62 542.17,617.35 538.04,619.06 533.6,619.64 529.16,619.06 525.03,617.35 524.51,611.59 522.47,608.93 521.18,605.83 520.74,602.5 521.18,599.17 526.18,598.21 527.54,596.44 531.46,598.79 532.49,598.36" fill="#4fa3e8" fill-opacity="0.37"/>
<circle cx="533.6" cy="581.07" r="1.25" fill="#3d97e6"/>
<circle cx="539.15" cy="581.8" r="1.25" fill="#3d97e6"/>
<circle cx="544.31" cy="583.94" r="1.25" fill="#3d97e6"/>
<circle cx="548.75" cy="587.35" r="1.25" fill="#3d97e6"/>
<circle cx="552.16" cy="591.79" r="1.25" fill="#3d97e6"/>
<circle cx="554.3" cy="596.95" r="1.25" fill="#3d97e6"/>
<circle cx="550.74" cy="602.5" r="1.25" fill="#3d97e6"/>
<circle cx="550.16" cy="606.94" r="1.25" fill="#3d97e6"/>
<circle cx="548.45" cy="611.07" r="1.25" fill="#3d97e6"/>
<circle cx="545.72" cy="614.62" r="1.25" fill="#3d97e6"/>
<circle cx="542.17" cy="617.35" r="1.25" fill="#3d97e6"/>
<circle cx="538.04" cy="619.06" r="1.25" fill="#3d97e6"/>
<circle cx="533.6" cy="619.64" r="1.25" fill="#3d97e6"/>
<circle cx="529.16" cy="619.06" r="1.25" fill="#3d97e6"/>
<circle cx="525.03" cy="617.35" r="1.25" fill="#3d97e6"/>
<circle cx="524.51" cy="611.59" r="1.25" fill="#3d97e6"/>
<circle cx="522.47" cy="608.93" r="1.25" fill="#3d97e6"/>
<circle cx="521.18" cy="605.83" r="1.25" fill="#3d97e6"/>
<circle cx="520.74" cy="602.5" r="1.25" fill="#3d97e6"/>
<circle cx="521.18" cy="599.17" r="1.25" fill="#3d97e6"/>
<circle cx="526.18" cy="598.21" r="1.25" fill="#3d97e6"/>
<circle cx="527.54" cy="596.44" r="1.25" fill="#3d97e6"/>
<circle cx="531.46" cy="598.79" r="1.25" fill="#3d97e6"/>
<circle cx="532.49" cy="598.36" r="1.25" fill="#3d97e6"/>
</svg>
<svg class="abs" style="left:600px;top:340px" width="424" height="290" viewBox="600 340 424 290">
<rect x="721.93" y="362.9" width="21.74" height="3.55" fill="#cccccc"/>
<text x="732.8" y="365.49" font-size="2.4" fill="#2a2a2a" text-anchor="middle" font-weight="bold">1.00</text>
<rect x="721.93" y="366.77" width="21.74" height="3.55" fill="#f9ec85"/>
<text x="732.8" y="369.36" font-size="2.4" fill="#2a2a2a" text-anchor="middle" font-weight="bold">1.00</text>
<rect x="721.93" y="370.65" width="21.74" height="3.55" fill="#f9ec85"/>
<text x="732.8" y="373.23" font-size="2.4" fill="#2a2a2a" text-anchor="middle" font-weight="bold">1.00</text>
<rect x="721.93" y="374.52" width="21.74" height="3.55" fill="#f9ec85"/>
<text x="732.8" y="377.11" font-size="2.4" fill="#2a2a2a" text-anchor="middle" font-weight="bold">1.00</text>
<rect x="721.93" y="378.39" width="21.74" height="3.55" fill="#f9ec85"/>
<text x="732.8" y="380.98" font-size="2.4" fill="#2a2a2a" text-anchor="middle" font-weight="bold">1.00</text>
<rect x="711.06" y="382.27" width="43.48" height="3.55" fill="#f9ec85"/>
<text x="732.8" y="384.85" font-size="2.4" fill="#2a2a2a" text-anchor="middle" font-weight="bold">2.00</text>
<rect x="711.06" y="386.14" width="43.48" height="3.55" fill="#f9ec85"/>
<text x="732.8" y="388.72" font-size="2.4" fill="#2a2a2a" text-anchor="middle" font-weight="bold">2.00</text>
<rect x="711.06" y="390.01" width="43.48" height="3.55" fill="#f9ec85"/>
<text x="732.8" y="392.6" font-size="2.4" fill="#2a2a2a" text-anchor="middle" font-weight="bold">2.00</text>
<rect x="711.06" y="393.88" width="43.48" height="3.55" fill="#f9ec85"/>
<text x="732.8" y="396.47" font-size="2.4" fill="#2a2a2a" text-anchor="middle" font-weight="bold">2.00</text>
<rect x="711.06" y="397.76" width="43.48" height="3.55" fill="#f9ec85"/>
<text x="732.8" y="400.34" font-size="2.4" fill="#2a2a2a" text-anchor="middle" font-weight="bold">2.00</text>
<rect x="711.06" y="401.63" width="43.48" height="3.55" fill="#f9ec85"/>
<text x="732.8" y="404.22" font-size="2.4" fill="#2a2a2a" text-anchor="middle" font-weight="bold">2.00</text>
<rect x="700.19" y="405.5" width="65.22" height="3.55" fill="#f9ec85"/>
<text x="732.8" y="408.09" font-size="2.4" fill="#2a2a2a" text-anchor="middle" font-weight="bold">3.00</text>
<rect x="700.19" y="409.38" width="65.22" height="3.55" fill="#f9ec85"/>
<text x="732.8" y="411.96" font-size="2.4" fill="#2a2a2a" text-anchor="middle" font-weight="bold">3.00</text>
<rect x="700.19" y="413.25" width="65.22" height="3.55" fill="#f9ec85"/>
<text x="732.8" y="415.84" font-size="2.4" fill="#2a2a2a" text-anchor="middle" font-weight="bold">3.00</text>
<rect x="689.32" y="417.12" width="86.96" height="3.55" fill="#f9ec85"/>
<text x="732.8" y="419.71" font-size="2.4" fill="#2a2a2a" text-anchor="middle" font-weight="bold">4.00</text>
<rect x="689.32" y="421" width="86.96" height="3.55" fill="#f9ec85"/>
<text x="732.8" y="423.58" font-size="2.4" fill="#2a2a2a" text-anchor="middle" font-weight="bold">4.00</text>
<rect x="689.32" y="424.87" width="86.96" height="3.55" fill="#f9ec85"/>
<text x="732.8" y="427.46" font-size="2.4" fill="#2a2a2a" text-anchor="middle" font-weight="bold">4.00</text>
<rect x="689.32" y="428.74" width="86.96" height="3.55" fill="#f9ec85"/>
<text x="732.8" y="431.33" font-size="2.4" fill="#2a2a2a" text-anchor="middle" font-weight="bold">4.00</text>
<rect x="689.32" y="432.62" width="86.96" height="3.55" fill="#f9ec85"/>
<text x="732.8" y="435.2" font-size="2.4" fill="#2a2a2a" text-anchor="middle" font-weight="bold">4.00</text>
<rect x="689.32" y="436.49" width="86.96" height="3.55" fill="#f9ec85"/>
<text x="732.8" y="439.07" font-size="2.4" fill="#2a2a2a" text-anchor="middle" font-weight="bold">4.00</text>
<rect x="689.32" y="440.36" width="86.96" height="3.55" fill="#f9ec85"/>
<text x="732.8" y="442.95" font-size="2.4" fill="#2a2a2a" text-anchor="middle" font-weight="bold">4.00</text>
<rect x="678.45" y="444.23" width="108.7" height="3.55" fill="#f9ec85"/>
<text x="732.8" y="446.82" font-size="2.4" fill="#2a2a2a" text-anchor="middle" font-weight="bold">5.00</text>
<rect x="678.45" y="448.11" width="108.7" height="3.55" fill="#f9ec85"/>
<text x="732.8" y="450.69" font-size="2.4" fill="#2a2a2a" text-anchor="middle" font-weight="bold">5.00</text>
<rect x="678.45" y="451.98" width="108.7" height="3.55" fill="#f9ec85"/>
<text x="732.8" y="454.57" font-size="2.4" fill="#2a2a2a" text-anchor="middle" font-weight="bold">5.00</text>
<rect x="678.45" y="455.85" width="108.7" height="3.55" fill="#f9ec85"/>
<text x="732.8" y="458.44" font-size="2.4" fill="#2a2a2a" text-anchor="middle" font-weight="bold">5.00</text>
<rect x="678.45" y="459.73" width="108.7" height="3.55" fill="#cccccc"/>
<text x="732.8" y="462.31" font-size="2.4" fill="#2a2a2a" text-anchor="middle" font-weight="bold">5.00</text>
<rect x="854.8" y="361.9" width="22" height="3.59" fill="#cccccc"/>
<text x="865.8" y="364.5" font-size="2.4" fill="#2a2a2a" text-anchor="middle" font-weight="bold">1.00</text>
<rect x="854.8" y="365.81" width="22" height="3.59" fill="#56d983"/>
<text x="865.8" y="368.41" font-size="2.4" fill="#2a2a2a" text-anchor="middle" font-weight="bold">1.00</text>
<rect x="854.8" y="369.72" width="22" height="3.59" fill="#56d983"/>
<text x="865.8" y="372.32" font-size="2.4" fill="#2a2a2a" text-anchor="middle" font-weight="bold">1.00</text>
<rect x="854.8" y="373.62" width="22" height="3.59" fill="#56d983"/>
<text x="865.8" y="376.23" font-size="2.4" fill="#2a2a2a" text-anchor="middle" font-weight="bold">1.00</text>
<rect x="854.8" y="377.53" width="22" height="3.59" fill="#56d983"/>
<text x="865.8" y="380.13" font-size="2.4" fill="#2a2a2a" text-anchor="middle" font-weight="bold">1.00</text>
<rect x="854.8" y="381.44" width="22" height="3.59" fill="#56d983"/>
<text x="865.8" y="384.04" font-size="2.4" fill="#2a2a2a" text-anchor="middle" font-weight="bold">1.00</text>
<rect x="854.8" y="385.35" width="22" height="3.59" fill="#56d983"/>
<text x="865.8" y="387.95" font-size="2.4" fill="#2a2a2a" text-anchor="middle" font-weight="bold">1.00</text>
<rect x="843.8" y="389.25" width="44" height="3.59" fill="#56d983"/>
<text x="865.8" y="391.86" font-size="2.4" fill="#2a2a2a" text-anchor="middle" font-weight="bold">2.00</text>
<rect x="843.8" y="393.16" width="44" height="3.59" fill="#56d983"/>
<text x="865.8" y="395.77" font-size="2.4" fill="#2a2a2a" text-anchor="middle" font-weight="bold">2.00</text>
<rect x="843.8" y="397.07" width="44" height="3.59" fill="#56d983"/>
<text x="865.8" y="399.67" font-size="2.4" fill="#2a2a2a" text-anchor="middle" font-weight="bold">2.00</text>
<rect x="843.8" y="400.98" width="44" height="3.59" fill="#56d983"/>
<text x="865.8" y="403.58" font-size="2.4" fill="#2a2a2a" text-anchor="middle" font-weight="bold">2.00</text>
<rect x="843.8" y="404.88" width="44" height="3.59" fill="#56d983"/>
<text x="865.8" y="407.49" font-size="2.4" fill="#2a2a2a" text-anchor="middle" font-weight="bold">2.00</text>
<rect x="843.8" y="408.79" width="44" height="3.59" fill="#56d983"/>
<text x="865.8" y="411.4" font-size="2.4" fill="#2a2a2a" text-anchor="middle" font-weight="bold">2.00</text>
<rect x="843.8" y="412.7" width="44" height="3.59" fill="#56d983"/>
<text x="865.8" y="415.3" font-size="2.4" fill="#2a2a2a" text-anchor="middle" font-weight="bold">2.00</text>
<rect x="843.8" y="416.61" width="44" height="3.59" fill="#56d983"/>
<text x="865.8" y="419.21" font-size="2.4" fill="#2a2a2a" text-anchor="middle" font-weight="bold">2.00</text>
<rect x="832.8" y="420.52" width="66" height="3.59" fill="#56d983"/>
<text x="865.8" y="423.12" font-size="2.4" fill="#2a2a2a" text-anchor="middle" font-weight="bold">3.00</text>
<rect x="832.8" y="424.42" width="66" height="3.59" fill="#56d983"/>
<text x="865.8" y="427.03" font-size="2.4" fill="#2a2a2a" text-anchor="middle" font-weight="bold">3.00</text>
<rect x="832.8" y="428.33" width="66" height="3.59" fill="#56d983"/>
<text x="865.8" y="430.93" font-size="2.4" fill="#2a2a2a" text-anchor="middle" font-weight="bold">3.00</text>
<rect x="821.8" y="432.24" width="88" height="3.59" fill="#56d983"/>
<text x="865.8" y="434.84" font-size="2.4" fill="#2a2a2a" text-anchor="middle" font-weight="bold">4.00</text>
<rect x="821.8" y="436.15" width="88" height="3.59" fill="#56d983"/>
<text x="865.8" y="438.75" font-size="2.4" fill="#2a2a2a" text-anchor="middle" font-weight="bold">4.00</text>
<rect x="821.8" y="440.05" width="88" height="3.59" fill="#56d983"/>
<text x="865.8" y="442.66" font-size="2.4" fill="#2a2a2a" text-anchor="middle" font-weight="bold">4.00</text>
<rect x="821.8" y="443.96" width="88" height="3.59" fill="#56d983"/>
<text x="865.8" y="446.57" font-size="2.4" fill="#2a2a2a" text-anchor="middle" font-weight="bold">4.00</text>
<rect x="821.8" y="447.87" width="88" height="3.59" fill="#56d983"/>
<text x="865.8" y="450.47" font-size="2.4" fill="#2a2a2a" text-anchor="middle" font-weight="bold">4.00</text>
<rect x="821.8" y="451.78" width="88" height="3.59" fill="#56d983"/>
<text x="865.8" y="454.38" font-size="2.4" fill="#2a2a2a" text-anchor="middle" font-weight="bold">4.00</text>
<rect x="810.8" y="455.68" width="110" height="3.59" fill="#56d983"/>
<text x="865.8" y="458.29" font-size="2.4" fill="#2a2a2a" text-anchor="middle" font-weight="bold">5.00</text>
<rect x="810.8" y="459.59" width="110" height="3.59" fill="#cccccc"/>
<text x="865.8" y="462.2" font-size="2.4" fill="#2a2a2a" text-anchor="middle" font-weight="bold">5.00</text>
<rect x="659.4" y="502.6" width="22" height="3.58" fill="#cccccc"/>
<text x="670.4" y="505.2" font-size="2.4" fill="#2a2a2a" text-anchor="middle" font-weight="bold">1.00</text>
<rect x="659.4" y="506.5" width="22" height="3.58" fill="#ee6464"/>
<text x="670.4" y="509.1" font-size="2.4" fill="#2a2a2a" text-anchor="middle" font-weight="bold">1.00</text>
<rect x="659.4" y="510.4" width="22" height="3.58" fill="#ee6464"/>
<text x="670.4" y="513" font-size="2.4" fill="#2a2a2a" text-anchor="middle" font-weight="bold">1.00</text>
<rect x="659.4" y="514.3" width="22" height="3.58" fill="#ee6464"/>
<text x="670.4" y="516.9" font-size="2.4" fill="#2a2a2a" text-anchor="middle" font-weight="bold">1.00</text>
<rect x="659.4" y="518.2" width="22" height="3.58" fill="#ee6464"/>
<text x="670.4" y="520.8" font-size="2.4" fill="#2a2a2a" text-anchor="middle" font-weight="bold">1.00</text>
<rect x="659.4" y="522.1" width="22" height="3.58" fill="#ee6464"/>
<text x="670.4" y="524.7" font-size="2.4" fill="#2a2a2a" text-anchor="middle" font-weight="bold">1.00</text>
<rect x="659.4" y="526" width="22" height="3.58" fill="#ee6464"/>
<text x="670.4" y="528.6" font-size="2.4" fill="#2a2a2a" text-anchor="middle" font-weight="bold">1.00</text>
<rect x="659.4" y="529.9" width="22" height="3.58" fill="#ee6464"/>
<text x="670.4" y="532.5" font-size="2.4" fill="#2a2a2a" text-anchor="middle" font-weight="bold">1.00</text>
<rect x="648.4" y="533.8" width="44" height="3.58" fill="#ee6464"/>
<text x="670.4" y="536.4" font-size="2.4" fill="#2a2a2a" text-anchor="middle" font-weight="bold">2.00</text>
<rect x="648.4" y="537.7" width="44" height="3.58" fill="#ee6464"/>
<text x="670.4" y="540.3" font-size="2.4" fill="#2a2a2a" text-anchor="middle" font-weight="bold">2.00</text>
<rect x="648.4" y="541.6" width="44" height="3.58" fill="#ee6464"/>
<text x="670.4" y="544.2" font-size="2.4" fill="#2a2a2a" text-anchor="middle" font-weight="bold">2.00</text>
<rect x="648.4" y="545.5" width="44" height="3.58" fill="#ee6464"/>
<text x="670.4" y="548.1" font-size="2.4" fill="#2a2a2a" text-anchor="middle" font-weight="bold">2.00</text>
<rect x="648.4" y="549.4" width="44" height="3.58" fill="#ee6464"/>
<text x="670.4" y="552" font-size="2.4" fill="#2a2a2a" text-anchor="middle" font-weight="bold">2.00</text>
<rect x="637.4" y="553.3" width="66" height="3.58" fill="#ee6464"/>
<text x="670.4" y="555.9" font-size="2.4" fill="#2a2a2a" text-anchor="middle" font-weight="bold">3.00</text>
<rect x="637.4" y="557.2" width="66" height="3.58" fill="#ee6464"/>
<text x="670.4" y="559.8" font-size="2.4" fill="#2a2a2a" text-anchor="middle" font-weight="bold">3.00</text>
<rect x="637.4" y="561.1" width="66" height="3.58" fill="#ee6464"/>
<text x="670.4" y="563.7" font-size="2.4" fill="#2a2a2a" text-anchor="middle" font-weight="bold">3.00</text>
<rect x="626.4" y="565" width="88" height="3.58" fill="#ee6464"/>
<text x="670.4" y="567.6" font-size="2.4" fill="#2a2a2a" text-anchor="middle" font-weight="bold">4.00</text>
<rect x="626.4" y="568.9" width="88" height="3.58" fill="#ee6464"/>
<text x="670.4" y="571.5" font-size="2.4" fill="#2a2a2a" text-anchor="middle" font-weight="bold">4.00</text>
<rect x="626.4" y="572.8" width="88" height="3.58" fill="#ee6464"/>
<text x="670.4" y="575.4" font-size="2.4" fill="#2a2a2a" text-anchor="middle" font-weight="bold">4.00</text>
<rect x="626.4" y="576.7" width="88" height="3.58" fill="#ee6464"/>
<text x="670.4" y="579.3" font-size="2.4" fill="#2a2a2a" text-anchor="middle" font-weight="bold">4.00</text>
<rect x="626.4" y="580.6" width="88" height="3.58" fill="#ee6464"/>
<text x="670.4" y="583.2" font-size="2.4" fill="#2a2a2a" text-anchor="middle" font-weight="bold">4.00</text>
<rect x="615.4" y="584.5" width="110" height="3.58" fill="#ee6464"/>
<text x="670.4" y="587.1" font-size="2.4" fill="#2a2a2a" text-anchor="middle" font-weight="bold">5.00</text>
<rect x="615.4" y="588.4" width="110" height="3.58" fill="#ee6464"/>
<text x="670.4" y="591" font-size="2.4" fill="#2a2a2a" text-anchor="middle" font-weight="bold">5.00</text>
<rect x="615.4" y="592.3" width="110" height="3.58" fill="#ee6464"/>
<text x="670.4" y="594.9" font-size="2.4" fill="#2a2a2a" text-anchor="middle" font-weight="bold">5.00</text>
<rect x="615.4" y="596.2" width="110" height="3.58" fill="#ee6464"/>
<text x="670.4" y="598.8" font-size="2.4" fill="#2a2a2a" text-anchor="middle" font-weight="bold">5.00</text>
<rect x="615.4" y="600.1" width="110" height="3.58" fill="#cccccc"/>
<text x="670.4" y="602.7" font-size="2.4" fill="#2a2a2a" text-anchor="middle" font-weight="bold">5.00</text>
<rect x="792.05" y="501.4" width="21.9" height="3.56" fill="#cccccc"/>
<text x="803" y="503.99" font-size="2.4" fill="#2a2a2a" text-anchor="middle" font-weight="bold">1.00</text>
<rect x="792.05" y="505.28" width="21.9" height="3.56" fill="#f3b02e"/>
<text x="803" y="507.87" font-size="2.4" fill="#2a2a2a" text-anchor="middle" font-weight="bold">1.00</text>
<rect x="792.05" y="509.15" width="21.9" height="3.56" fill="#f3b02e"/>
<text x="803" y="511.74" font-size="2.4" fill="#2a2a2a" text-anchor="middle" font-weight="bold">1.00</text>
<rect x="792.05" y="513.03" width="21.9" height="3.56" fill="#f3b02e"/>
<text x="803" y="515.62" font-size="2.4" fill="#2a2a2a" text-anchor="middle" font-weight="bold">1.00</text>
<rect x="792.05" y="516.91" width="21.9" height="3.56" fill="#f3b02e"/>
<text x="803" y="519.5" font-size="2.4" fill="#2a2a2a" text-anchor="middle" font-weight="bold">1.00</text>
<rect x="792.05" y="520.78" width="21.9" height="3.56" fill="#f3b02e"/>
<text x="803" y="523.37" font-size="2.4" fill="#2a2a2a" text-anchor="middle" font-weight="bold">1.00</text>
<rect x="792.05" y="524.66" width="21.9" height="3.56" fill="#f3b02e"/>
<text x="803" y="527.25" font-size="2.4" fill="#2a2a2a" text-anchor="middle" font-weight="bold">1.00</text>
<rect x="781.1" y="528.54" width="43.8" height="3.56" fill="#f3b02e"/>
<text x="803" y="531.13" font-size="2.4" fill="#2a2a2a" text-anchor="middle" font-weight="bold">2.00</text>
<rect x="781.1" y="532.42" width="43.8" height="3.56" fill="#f3b02e"/>
<text x="803" y="535" font-size="2.4" fill="#2a2a2a" text-anchor="middle" font-weight="bold">2.00</text>
<rect x="781.1" y="536.29" width="43.8" height="3.56" fill="#f3b02e"/>
<text x="803" y="538.88" font-size="2.4" fill="#2a2a2a" text-anchor="middle" font-weight="bold">2.00</text>
<rect x="781.1" y="540.17" width="43.8" height="3.56" fill="#f3b02e"/>
<text x="803" y="542.76" font-size="2.4" fill="#2a2a2a" text-anchor="middle" font-weight="bold">2.00</text>
<rect x="781.1" y="544.05" width="43.8" height="3.56" fill="#f3b02e"/>
<text x="803" y="546.63" font-size="2.4" fill="#2a2a2a" text-anchor="middle" font-weight="bold">2.00</text>
<rect x="781.1" y="547.92" width="43.8" height="3.56" fill="#f3b02e"/>
<text x="803" y="550.51" font-size="2.4" fill="#2a2a2a" text-anchor="middle" font-weight="bold">2.00</text>
<rect x="770.15" y="551.8" width="65.7" height="3.56" fill="#f3b02e"/>
<text x="803" y="554.39" font-size="2.4" fill="#2a2a2a" text-anchor="middle" font-weight="bold">3.00</text>
<rect x="770.15" y="555.68" width="65.7" height="3.56" fill="#f3b02e"/>
<text x="803" y="558.27" font-size="2.4" fill="#2a2a2a" text-anchor="middle" font-weight="bold">3.00</text>
<rect x="770.15" y="559.55" width="65.7" height="3.56" fill="#f3b02e"/>
<text x="803" y="562.14" font-size="2.4" fill="#2a2a2a" text-anchor="middle" font-weight="bold">3.00</text>
<rect x="759.2" y="563.43" width="87.6" height="3.56" fill="#f3b02e"/>
<text x="803" y="566.02" font-size="2.4" fill="#2a2a2a" text-anchor="middle" font-weight="bold">4.00</text>
<rect x="759.2" y="567.31" width="87.6" height="3.56" fill="#f3b02e"/>
<text x="803" y="569.9" font-size="2.4" fill="#2a2a2a" text-anchor="middle" font-weight="bold">4.00</text>
<rect x="759.2" y="571.18" width="87.6" height="3.56" fill="#f3b02e"/>
<text x="803" y="573.77" font-size="2.4" fill="#2a2a2a" text-anchor="middle" font-weight="bold">4.00</text>
<rect x="759.2" y="575.06" width="87.6" height="3.56" fill="#f3b02e"/>
<text x="803" y="577.65" font-size="2.4" fill="#2a2a2a" text-anchor="middle" font-weight="bold">4.00</text>
<rect x="759.2" y="578.94" width="87.6" height="3.56" fill="#f3b02e"/>
<text x="803" y="581.53" font-size="2.4" fill="#2a2a2a" text-anchor="middle" font-weight="bold">4.00</text>
<rect x="748.25" y="582.82" width="109.5" height="3.56" fill="#f3b02e"/>
<text x="803" y="585.4" font-size="2.4" fill="#2a2a2a" text-anchor="middle" font-weight="bold">5.00</text>
<rect x="748.25" y="586.69" width="109.5" height="3.56" fill="#f3b02e"/>
<text x="803" y="589.28" font-size="2.4" fill="#2a2a2a" text-anchor="middle" font-weight="bold">5.00</text>
<rect x="748.25" y="590.57" width="109.5" height="3.56" fill="#f3b02e"/>
<text x="803" y="593.16" font-size="2.4" fill="#2a2a2a" text-anchor="middle" font-weight="bold">5.00</text>
<rect x="748.25" y="594.45" width="109.5" height="3.56" fill="#f3b02e"/>
<text x="803" y="597.03" font-size="2.4" fill="#2a2a2a" text-anchor="middle" font-weight="bold">5.00</text>
<rect x="748.25" y="598.32" width="109.5" height="3.56" fill="#cccccc"/>
<text x="803" y="600.91" font-size="2.4" fill="#2a2a2a" text-anchor="middle" font-weight="bold">5.00</text>
<rect x="920.75" y="501.4" width="21.9" height="3.58" fill="#cccccc"/>
<text x="931.7" y="504" font-size="2.4" fill="#2a2a2a" text-anchor="middle" font-weight="bold">1.00</text>
<rect x="920.75" y="505.3" width="21.9" height="3.58" fill="#55a7ea"/>
<text x="931.7" y="507.9" font-size="2.4" fill="#2a2a2a" text-anchor="middle" font-weight="bold">1.00</text>
<rect x="920.75" y="509.2" width="21.9" height="3.58" fill="#55a7ea"/>
<text x="931.7" y="511.8" font-size="2.4" fill="#2a2a2a" text-anchor="middle" font-weight="bold">1.00</text>
<rect x="909.8" y="513.1" width="43.8" height="3.58" fill="#55a7ea"/>
<text x="931.7" y="515.7" font-size="2.4" fill="#2a2a2a" text-anchor="middle" font-weight="bold">2.00</text>
<rect x="909.8" y="517" width="43.8" height="3.58" fill="#55a7ea"/>
<text x="931.7" y="519.6" font-size="2.4" fill="#2a2a2a" text-anchor="middle" font-weight="bold">2.00</text>
<rect x="898.85" y="520.9" width="65.7" height="3.58" fill="#55a7ea"/>
<text x="931.7" y="523.5" font-size="2.4" fill="#2a2a2a" text-anchor="middle" font-weight="bold">3.00</text>
<rect x="898.85" y="524.8" width="65.7" height="3.58" fill="#55a7ea"/>
<text x="931.7" y="527.4" font-size="2.4" fill="#2a2a2a" text-anchor="middle" font-weight="bold">3.00</text>
<rect x="898.85" y="528.7" width="65.7" height="3.58" fill="#55a7ea"/>
<text x="931.7" y="531.3" font-size="2.4" fill="#2a2a2a" text-anchor="middle" font-weight="bold">3.00</text>
<rect x="898.85" y="532.6" width="65.7" height="3.58" fill="#55a7ea"/>
<text x="931.7" y="535.2" font-size="2.4" fill="#2a2a2a" text-anchor="middle" font-weight="bold">3.00</text>
<rect x="898.85" y="536.5" width="65.7" height="3.58" fill="#55a7ea"/>
<text x="931.7" y="539.1" font-size="2.4" fill="#2a2a2a" text-anchor="middle" font-weight="bold">3.00</text>
<rect x="887.9" y="540.4" width="87.6" height="3.58" fill="#55a7ea"/>
<text x="931.7" y="543" font-size="2.4" fill="#2a2a2a" text-anchor="middle" font-weight="bold">4.00</text>
<rect x="887.9" y="544.3" width="87.6" height="3.58" fill="#55a7ea"/>
<text x="931.7" y="546.9" font-size="2.4" fill="#2a2a2a" text-anchor="middle" font-weight="bold">4.00</text>
<rect x="887.9" y="548.2" width="87.6" height="3.58" fill="#55a7ea"/>
<text x="931.7" y="550.8" font-size="2.4" fill="#2a2a2a" text-anchor="middle" font-weight="bold">4.00</text>
<rect x="887.9" y="552.1" width="87.6" height="3.58" fill="#55a7ea"/>
<text x="931.7" y="554.7" font-size="2.4" fill="#2a2a2a" text-anchor="middle" font-weight="bold">4.00</text>
<rect x="887.9" y="556" width="87.6" height="3.58" fill="#55a7ea"/>
<text x="931.7" y="558.6" font-size="2.4" fill="#2a2a2a" text-anchor="middle" font-weight="bold">4.00</text>
<rect x="887.9" y="559.9" width="87.6" height="3.58" fill="#55a7ea"/>
<text x="931.7" y="562.5" font-size="2.4" fill="#2a2a2a" text-anchor="middle" font-weight="bold">4.00</text>
<rect x="887.9" y="563.8" width="87.6" height="3.58" fill="#55a7ea"/>
<text x="931.7" y="566.4" font-size="2.4" fill="#2a2a2a" text-anchor="middle" font-weight="bold">4.00</text>
<rect x="887.9" y="567.7" width="87.6" height="3.58" fill="#55a7ea"/>
<text x="931.7" y="570.3" font-size="2.4" fill="#2a2a2a" text-anchor="middle" font-weight="bold">4.00</text>
<rect x="887.9" y="571.6" width="87.6" height="3.58" fill="#55a7ea"/>
<text x="931.7" y="574.2" font-size="2.4" fill="#2a2a2a" text-anchor="middle" font-weight="bold">4.00</text>
<rect x="876.95" y="575.5" width="109.5" height="3.58" fill="#55a7ea"/>
<text x="931.7" y="578.1" font-size="2.4" fill="#2a2a2a" text-anchor="middle" font-weight="bold">5.00</text>
<rect x="876.95" y="579.4" width="109.5" height="3.58" fill="#55a7ea"/>
<text x="931.7" y="582" font-size="2.4" fill="#2a2a2a" text-anchor="middle" font-weight="bold">5.00</text>
<rect x="876.95" y="583.3" width="109.5" height="3.58" fill="#55a7ea"/>
<text x="931.7" y="585.9" font-size="2.4" fill="#2a2a2a" text-anchor="middle" font-weight="bold">5.00</text>
<rect x="876.95" y="587.2" width="109.5" height="3.58" fill="#55a7ea"/>
<text x="931.7" y="589.8" font-size="2.4" fill="#2a2a2a" text-anchor="middle" font-weight="bold">5.00</text>
<rect x="876.95" y="591.1" width="109.5" height="3.58" fill="#55a7ea"/>
<text x="931.7" y="593.7" font-size="2.4" fill="#2a2a2a" text-anchor="middle" font-weight="bold">5.00</text>
<rect x="876.95" y="595" width="109.5" height="3.58" fill="#55a7ea"/>
<text x="931.7" y="597.6" font-size="2.4" fill="#2a2a2a" text-anchor="middle" font-weight="bold">5.00</text>
<rect x="876.95" y="598.9" width="109.5" height="3.58" fill="#cccccc"/>
<text x="931.7" y="601.5" font-size="2.4" fill="#2a2a2a" text-anchor="middle" font-weight="bold">5.00</text>
</svg>
<svg class="abs" style="left:0;top:640px" width="640" height="384" viewBox="0 640 640 384">
<rect x="196.3" y="678.4" width="115.8" height="13.15" fill="#eca46b"/>
<rect x="312.1" y="678.4" width="80.3" height="13.15" fill="#d95f5f"/>
<rect x="392.4" y="678.4" width="79.7" height="13.15" fill="#eca46b"/>
<rect x="472.1" y="678.4" width="73.1" height="13.15" fill="#d95f5f"/>
<rect x="545.2" y="678.4" width="80.8" height="13.15" fill="#d95f5f"/>
<rect x="30" y="691.55" width="166.3" height="13.15" fill="#ebebec"/>
<rect x="196.3" y="691.55" width="115.8" height="13.15" fill="#d95f5f"/>
<rect x="312.1" y="691.55" width="80.3" height="13.15" fill="#eca46b"/>
<rect x="392.4" y="691.55" width="79.7" height="13.15" fill="#eca46b"/>
<rect x="472.1" y="691.55" width="73.1" height="13.15" fill="#eca46b"/>
<rect x="545.2" y="691.55" width="80.8" height="13.15" fill="#eca46b"/>
<rect x="196.3" y="704.71" width="115.8" height="13.15" fill="#feea7c"/>
<rect x="312.1" y="704.71" width="80.3" height="13.15" fill="#feea7c"/>
<rect x="392.4" y="704.71" width="79.7" height="13.15" fill="#d95f5f"/>
<rect x="472.1" y="704.71" width="73.1" height="13.15" fill="#d95f5f"/>
<rect x="545.2" y="704.71" width="80.8" height="13.15" fill="#eca46b"/>
<rect x="30" y="717.87" width="166.3" height="13.15" fill="#ebebec"/>
<rect x="196.3" y="717.87" width="115.8" height="13.15" fill="#d95f5f"/>
<rect x="312.1" y="717.87" width="80.3" height="13.15" fill="#a7d272"/>
<rect x="392.4" y="717.87" width="79.7" height="13.15" fill="#d95f5f"/>
<rect x="472.1" y="717.87" width="73.1" height="13.15" fill="#feea7c"/>
<rect x="545.2" y="717.87" width="80.8" height="13.15" fill="#eca46b"/>
<rect x="196.3" y="731.02" width="115.8" height="13.15" fill="#d95f5f"/>
<rect x="312.1" y="731.02" width="80.3" height="13.15" fill="#feea7c"/>
<rect x="392.4" y="731.02" width="79.7" height="13.15" fill="#a7d272"/>
<rect x="472.1" y="731.02" width="73.1" height="13.15" fill="#eca46b"/>
<rect x="545.2" y="731.02" width="80.8" height="13.15" fill="#d95f5f"/>
<rect x="30" y="744.17" width="166.3" height="13.15" fill="#ebebec"/>
<rect x="196.3" y="744.17" width="115.8" height="13.15" fill="#eca46b"/>
<rect x="312.1" y="744.17" width="80.3" height="13.15" fill="#feea7c"/>
<rect x="392.4" y="744.17" width="79.7" height="13.15" fill="#d95f5f"/>
<rect x="472.1" y="744.17" width="73.1" height="13.15" fill="#d95f5f"/>
<rect x="545.2" y="744.17" width="80.8" height="13.15" fill="#a7d272"/>
<rect x="196.3" y="757.33" width="115.8" height="13.15" fill="#a7d272"/>
<rect x="312.1" y="757.33" width="80.3" height="13.15" fill="#a7d272"/>
<rect x="392.4" y="757.33" width="79.7" height="13.15" fill="#d95f5f"/>
<rect x="472.1" y="757.33" width="73.1" height="13.15" fill="#eca46b"/>
<rect x="545.2" y="757.33" width="80.8" height="13.15" fill="#d95f5f"/>
<rect x="30" y="770.49" width="166.3" height="13.15" fill="#ebebec"/>
<rect x="196.3" y="770.49" width="115.8" height="13.15" fill="#eca46b"/>
<rect x="312.1" y="770.49" width="80.3" height="13.15" fill="#a7d272"/>
<rect x="392.4" y="770.49" width="79.7" height="13.15" fill="#eca46b"/>
<rect x="472.1" y="770.49" width="73.1" height="13.15" fill="#d95f5f"/>
<rect x="545.2" y="770.49" width="80.8" height="13.15" fill="#feea7c"/>
<rect x="196.3" y="783.64" width="115.8" height="13.15" fill="#eca46b"/>
<rect x="312.1" y="783.64" width="80.3" height="13.15" fill="#a7d272"/>
<rect x="392.4" y="783.64" width="79.7" height="13.15" fill="#d95f5f"/>
<rect x="472.1" y="783.64" width="73.1" height="13.15" fill="#d95f5f"/>
<rect x="545.2" y="783.64" width="80.8" height="13.15" fill="#a7d272"/>
<rect x="30" y="796.79" width="166.3" height="13.15" fill="#ebebec"/>
<rect x="196.3" y="796.79" width="115.8" height="13.15" fill="#d95f5f"/>
<rect x="312.1" y="796.79" width="80.3" height="13.15" fill="#a7d272"/>
<rect x="392.4" y="796.79" width="79.7" height="13.15" fill="#eca46b"/>
<rect x="472.1" y="796.79" width="73.1" height="13.15" fill="#a7d272"/>
<rect x="545.2" y="796.79" width="80.8" height="13.15" fill="#eca46b"/>
<rect x="196.3" y="809.95" width="115.8" height="13.15" fill="#eca46b"/>
<rect x="312.1" y="809.95" width="80.3" height="13.15" fill="#57b26a"/>
<rect x="392.4" y="809.95" width="79.7" height="13.15" fill="#eca46b"/>
<rect x="472.1" y="809.95" width="73.1" height="13.15" fill="#d95f5f"/>
<rect x="545.2" y="809.95" width="80.8" height="13.15" fill="#feea7c"/>
<rect x="30" y="823.11" width="166.3" height="13.15" fill="#ebebec"/>
<rect x="196.3" y="823.11" width="115.8" height="13.15" fill="#feea7c"/>
<rect x="312.1" y="823.11" width="80.3" height="13.15" fill="#feea7c"/>
<rect x="392.4" y="823.11" width="79.7" height="13.15" fill="#eca46b"/>
<rect x="472.1" y="823.11" width="73.1" height="13.15" fill="#57b26a"/>
<rect x="545.2" y="823.11" width="80.8" height="13.15" fill="#d95f5f"/>
<rect x="196.3" y="836.26" width="115.8" height="13.15" fill="#a7d272"/>
<rect x="312.1" y="836.26" width="80.3" height="13.15" fill="#eca46b"/>
<rect x="392.4" y="836.26" width="79.7" height="13.15" fill="#a7d272"/>
<rect x="472.1" y="836.26" width="73.1" height="13.15" fill="#a7d272"/>
<rect x="545.2" y="836.26" width="80.8" height="13.15" fill="#d95f5f"/>
<rect x="30" y="849.41" width="166.3" height="13.15" fill="#ebebec"/>
<rect x="196.3" y="849.41" width="115.8" height="13.15" fill="#a7d272"/>
<rect x="312.1" y="849.41" width="80.3" height="13.15" fill="#a7d272"/>
<rect x="392.4" y="849.41" width="79.7" height="13.15" fill="#feea7c"/>
<rect x="472.1" y="849.41" width="73.1" height="13.15" fill="#eca46b"/>
<rect x="545.2" y="849.41" width="80.8" height="13.15" fill="#eca46b"/>
<rect x="196.3" y="862.57" width="115.8" height="13.15" fill="#feea7c"/>
<rect x="312.1" y="862.57" width="80.3" height="13.15" fill="#a7d272"/>
<rect x="392.4" y="862.57" width="79.7" height="13.15" fill="#eca46b"/>
<rect x="472.1" y="862.57" width="73.1" height="13.15" fill="#d95f5f"/>
<rect x="545.2" y="862.57" width="80.8" height="13.15" fill="#57b26a"/>
<rect x="30" y="875.72" width="166.3" height="13.15" fill="#ebebec"/>
<rect x="196.3" y="875.72" width="115.8" height="13.15" fill="#a7d272"/>
<rect x="312.1" y="875.72" width="80.3" height="13.15" fill="#57b26a"/>
<rect x="392.4" y="875.72" width="79.7" height="13.15" fill="#eca46b"/>
<rect x="472.1" y="875.72" width="73.1" height="13.15" fill="#feea7c"/>
<rect x="545.2" y="875.72" width="80.8" height="13.15" fill="#d95f5f"/>
<rect x="196.3" y="888.88" width="115.8" height="13.15" fill="#eca46b"/>
<rect x="312.1" y="888.88" width="80.3" height="13.15" fill="#feea7c"/>
<rect x="392.4" y="888.88" width="79.7" height="13.15" fill="#d95f5f"/>
<rect x="472.1" y="888.88" width="73.1" height="13.15" fill="#57b26a"/>
<rect x="545.2" y="888.88" width="80.8" height="13.15" fill="#57b26a"/>
<rect x="30" y="902.03" width="166.3" height="13.15" fill="#ebebec"/>
<rect x="196.3" y="902.03" width="115.8" height="13.15" fill="#a7d272"/>
<rect x="312.1" y="902.03" width="80.3" height="13.15" fill="#d95f5f"/>
<rect x="392.4" y="902.03" width="79.7" height="13.15" fill="#a7d272"/>
<rect x="472.1" y="902.03" width="73.1" height="13.15" fill="#a7d272"/>
<rect x="545.2" y="902.03" width="80.8" height="13.15" fill="#57b26a"/>
<rect x="196.3" y="915.19" width="115.8" height="13.15" fill="#a7d272"/>
<rect x="312.1" y="915.19" width="80.3" height="13.15" fill="#a7d272"/>
<rect x="392.4" y="915.19" width="79.7" height="13.15" fill="#a7d272"/>
<rect x="472.1" y="915.19" width="73.1" height="13.15" fill="#feea7c"/>
<rect x="545.2" y="915.19" width="80.8" height="13.15" fill="#a7d272"/>
<rect x="30" y="928.35" width="166.3" height="13.15" fill="#ebebec"/>
<rect x="196.3" y="928.35" width="115.8" height="13.15" fill="#57b26a"/>
<rect x="312.1" y="928.35" width="80.3" height="13.15" fill="#57b26a"/>
<rect x="392.4" y="928.35" width="79.7" height="13.15" fill="#feea7c"/>
<rect x="472.1" y="928.35" width="73.1" height="13.15" fill="#eca46b"/>
<rect x="545.2" y="928.35" width="80.8" height="13.15" fill="#a7d272"/>
<rect x="196.3" y="941.5" width="115.8" height="13.15" fill="#a7d272"/>
<rect x="312.1" y="941.5" width="80.3" height="13.15" fill="#a7d272"/>
<rect x="392.4" y="941.5" width="79.7" height="13.15" fill="#57b26a"/>
<rect x="472.1" y="941.5" width="73.1" height="13.15" fill="#57b26a"/>
<rect x="545.2" y="941.5" width="80.8" height="13.15" fill="#eca46b"/>
<rect x="30" y="954.65" width="166.3" height="13.15" fill="#ebebec"/>
<rect x="196.3" y="954.65" width="115.8" height="13.15" fill="#57b26a"/>
<rect x="312.1" y="954.65" width="80.3" height="13.15" fill="#57b26a"/>
<rect x="392.4" y="954.65" width="79.7" height="13.15" fill="#feea7c"/>
<rect x="472.1" y="954.65" width="73.1" height="13.15" fill="#57b26a"/>
<rect x="545.2" y="954.65" width="80.8" height="13.15" fill="#feea7c"/>
<rect x="196.3" y="967.81" width="115.8" height="13.15" fill="#57b26a"/>
<rect x="312.1" y="967.81" width="80.3" height="13.15" fill="#57b26a"/>
<rect x="392.4" y="967.81" width="79.7" height="13.15" fill="#a7d272"/>
<rect x="472.1" y="967.81" width="73.1" height="13.15" fill="#a7d272"/>
<rect x="545.2" y="967.81" width="80.8" height="13.15" fill="#a7d272"/>
<rect x="30" y="980.96" width="166.3" height="13.15" fill="#ebebec"/>
<rect x="196.3" y="980.96" width="115.8" height="13.15" fill="#57b26a"/>
<rect x="312.1" y="980.96" width="80.3" height="13.15" fill="#57b26a"/>
<rect x="392.4" y="980.96" width="79.7" height="13.15" fill="#a7d272"/>
<rect x="472.1" y="980.96" width="73.1" height="13.15" fill="#a7d272"/>
<rect x="545.2" y="980.96" width="80.8" height="13.15" fill="#57b26a"/>
<rect x="30" y="677.5" width="596" height="0.9" fill="#b4b4b8"/>
<rect x="195.7" y="678.4" width="1.2" height="315.72" fill="#2f4a63"/>
</svg>
<div class="abs tbl" style="left:0;top:640px;width:640px;height:384px">
<div class="th" style="left:30px;width:166.3px;top:19.8px">Sector</div>
<div class="th" style="left:196.3px;width:115.8px;top:19.8px">Customer Insights Specialist</div>
<div class="th" style="left:312.1px;width:80.3px;top:19.8px">CX Analyst</div>
<div class="th" style="left:392.4px;width:79.7px;top:19.8px">CX Director</div>
<div class="th" style="left:472.1px;width:73.1px;top:19.8px">CX Trainer</div>
<div class="th" style="left:545.2px;width:80.8px;top:19.8px">VoC Manager</div>
<div class="td sec" style="left:30px;width:166.3px;top:38.4px">Customer Segmentation &amp; Needs</div>
<div class="td num" style="left:196.3px;width:115.8px;top:38.4px">2</div>
<div class="td num" style="left:312.1px;width:80.3px;top:38.4px">1</div>
<div class="td num" style="left:392.4px;width:79.7px;top:38.4px">2</div>
<div class="td num" style="left:472.1px;width:73.1px;top:38.4px">1</div>
<div class="td num" style="left:545.2px;width:80.8px;top:38.4px">1</div>
<div class="td sec" style="left:30px;width:166.3px;top:51.55px">Post-Purchase Experience</div>
<div class="td num" style="left:196.3px;width:115.8px;top:51.55px">1</div>
<div class="td num" style="left:312.1px;width:80.3px;top:51.55px">2</div>
<div class="td num" style="left:392.4px;width:79.7px;top:51.55px">2</div>
<div class="td num" style="left:472.1px;width:73.1px;top:51.55px">2</div>
<div class="td num" style="left:545.2px;width:80.8px;top:51.55px">2</div>
<div class="td sec" style="left:30px;width:166.3px;top:64.71px">Sustainability</div>
<div class="td num" style="left:196.3px;width:115.8px;top:64.71px">3</div>
<div class="td num" style="left:312.1px;width:80.3px;top:64.71px">3</div>
<div class="td num" style="left:392.4px;width:79.7px;top:64.71px">1</div>
<div class="td num" style="left:472.1px;width:73.1px;top:64.71px">1</div>
<div class="td num" style="left:545.2px;width:80.8px;top:64.71px">2</div>
<div class="td sec" style="left:30px;width:166.3px;top:77.86px">Culture &amp; Engagement</div>
<div class="td num" style="left:196.3px;width:115.8px;top:77.86px">1</div>
<div class="td num" style="left:312.1px;width:80.3px;top:77.86px">4</div>
<div class="td num" style="left:392.4px;width:79.7px;top:77.86px">1</div>
<div class="td num" style="left:472.1px;width:73.1px;top:77.86px">3</div>
<div class="td num" style="left:545.2px;width:80.8px;top:77.86px">2</div>
<div class="td sec" style="left:30px;width:166.3px;top:91.02px">Proactive Customer Service</div>
<div class="td num" style="left:196.3px;width:115.8px;top:91.02px">1</div>
<div class="td num" style="left:312.1px;width:80.3px;top:91.02px">3</div>
<div class="td num" style="left:392.4px;width:79.7px;top:91.02px">4</div>
<div class="td num" style="left:472.1px;width:73.1px;top:91.02px">2</div>
<div class="td num" style="left:545.2px;width:80.8px;top:91.02px">1</div>
<div class="td sec" style="left:30px;width:166.3px;top:104.17px">Supply Chain Robustness</div>
<div class="td num" style="left:196.3px;width:115.8px;top:104.17px">2</div>
<div class="td num" style="left:312.1px;width:80.3px;top:104.17px">3</div>
<div class="td num" style="left:392.4px;width:79.7px;top:104.17px">1</div>
<div class="td num" style="left:472.1px;width:73.1px;top:104.17px">1</div>
<div class="td num" style="left:545.2px;width:80.8px;top:104.17px">4</div>
<div class="td sec" style="left:30px;width:166.3px;top:117.33px">Customer Channels</div>
<div class="td num" style="left:196.3px;width:115.8px;top:117.33px">4</div>
<div class="td num" style="left:312.1px;width:80.3px;top:117.33px">4</div>
<div class="td num" style="left:392.4px;width:79.7px;top:117.33px">1</div>
<div class="td num" style="left:472.1px;width:73.1px;top:117.33px">2</div>
<div class="td num" style="left:545.2px;width:80.8px;top:117.33px">1</div>
<div class="td sec" style="left:30px;width:166.3px;top:130.48px">Customer Data Integration</div>
<div class="td num" style="left:196.3px;width:115.8px;top:130.48px">2</div>
<div class="td num" style="left:312.1px;width:80.3px;top:130.48px">4</div>
<div class="td num" style="left:392.4px;width:79.7px;top:130.48px">2</div>
<div class="td num" style="left:472.1px;width:73.1px;top:130.48px">1</div>
<div class="td num" style="left:545.2px;width:80.8px;top:130.48px">3</div>
<div class="td sec" style="left:30px;width:166.3px;top:143.64px">CX Personalization</div>
<div class="td num" style="left:196.3px;width:115.8px;top:143.64px">2</div>
<div class="td num" style="left:312.1px;width:80.3px;top:143.64px">4</div>
<div class="td num" style="left:392.4px;width:79.7px;top:143.64px">1</div>
<div class="td num" style="left:472.1px;width:73.1px;top:143.64px">1</div>
<div class="td num" style="left:545.2px;width:80.8px;top:143.64px">4</div>
<div class="td sec" style="left:30px;width:166.3px;top:156.79px">Brand Emotional Connection &amp; Advocacy</div>
<div class="td num" style="left:196.3px;width:115.8px;top:156.79px">1</div>
<div class="td num" style="left:312.1px;width:80.3px;top:156.79px">4</div>
<div class="td num" style="left:392.4px;width:79.7px;top:156.79px">2</div>
<div class="td num" style="left:472.1px;width:73.1px;top:156.79px">4</div>
<div class="td num" style="left:545.2px;width:80.8px;top:156.79px">2</div>
<div class="td sec" style="left:30px;width:166.3px;top:169.95px">Hiring &amp; Retention</div>
<div class="td num" style="left:196.3px;width:115.8px;top:169.95px">2</div>
<div class="td num" style="left:312.1px;width:80.3px;top:169.95px">5</div>
<div class="td num" style="left:392.4px;width:79.7px;top:169.95px">2</div>
<div class="td num" style="left:472.1px;width:73.1px;top:169.95px">1</div>
<div class="td num" style="left:545.2px;width:80.8px;top:169.95px">3</div>
<div class="td sec" style="left:30px;width:166.3px;top:183.1px">Voice of the Employee</div>
<div class="td num" style="left:196.3px;width:115.8px;top:183.1px">3</div>
<div class="td num" style="left:312.1px;width:80.3px;top:183.1px">3</div>
<div class="td num" style="left:392.4px;width:79.7px;top:183.1px">2</div>
<div class="td num" style="left:472.1px;width:73.1px;top:183.1px">5</div>
<div class="td num" style="left:545.2px;width:80.8px;top:183.1px">1</div>
<div class="td sec" style="left:30px;width:166.3px;top:196.26px">eCommerce Solutions</div>
<div class="td num" style="left:196.3px;width:115.8px;top:196.26px">4</div>
<div class="td num" style="left:312.1px;width:80.3px;top:196.26px">2</div>
<div class="td num" style="left:392.4px;width:79.7px;top:196.26px">4</div>
<div class="td num" style="left:472.1px;width:73.1px;top:196.26px">4</div>
<div class="td num" style="left:545.2px;width:80.8px;top:196.26px">1</div>
<div class="td sec" style="left:30px;width:166.3px;top:209.41px">Employee Emotional Connection</div>
<div class="td num" style="left:196.3px;width:115.8px;top:209.41px">4</div>
<div class="td num" style="left:312.1px;width:80.3px;top:209.41px">4</div>
<div class="td num" style="left:392.4px;width:79.7px;top:209.41px">3</div>
<div class="td num" style="left:472.1px;width:73.1px;top:209.41px">2</div>
<div class="td num" style="left:545.2px;width:80.8px;top:209.41px">2</div>
<div class="td sec" style="left:30px;width:166.3px;top:222.57px">Performance Measurement</div>
<div class="td num" style="left:196.3px;width:115.8px;top:222.57px">3</div>
<div class="td num" style="left:312.1px;width:80.3px;top:222.57px">4</div>
<div class="td num" style="left:392.4px;width:79.7px;top:222.57px">2</div>
<div class="td num" style="left:472.1px;width:73.1px;top:222.57px">1</div>
<div class="td num" style="left:545.2px;width:80.8px;top:222.57px">5</div>
<div class="td sec" style="left:30px;width:166.3px;top:235.72px">Self Service</div>
<div class="td num" style="left:196.3px;width:115.8px;top:235.72px">4</div>
<div class="td num" style="left:312.1px;width:80.3px;top:235.72px">5</div>
<div class="td num" style="left:392.4px;width:79.7px;top:235.72px">2</div>
<div class="td num" style="left:472.1px;width:73.1px;top:235.72px">3</div>
<div class="td num" style="left:545.2px;width:80.8px;top:235.72px">1</div>
<div class="td sec" style="left:30px;width:166.3px;top:248.88px">Loyalty &amp; Re-engagement</div>
<div class="td num" style="left:196.3px;width:115.8px;top:248.88px">2</div>
<div class="td num" style="left:312.1px;width:80.3px;top:248.88px">3</div>
<div class="td num" style="left:392.4px;width:79.7px;top:248.88px">1</div>
<div class="td num" style="left:472.1px;width:73.1px;top:248.88px">5</div>
<div class="td num" style="left:545.2px;width:80.8px;top:248.88px">5</div>
<div class="td sec" style="left:30px;width:166.3px;top:262.03px">Automation &amp; Integration</div>
<div class="td num" style="left:196.3px;width:115.8px;top:262.03px">4</div>
<div class="td num" style="left:312.1px;width:80.3px;top:262.03px">1</div>
<div class="td num" style="left:392.4px;width:79.7px;top:262.03px">4</div>
<div class="td num" style="left:472.1px;width:73.1px;top:262.03px">4</div>
<div class="td num" style="left:545.2px;width:80.8px;top:262.03px">5</div>
<div class="td sec" style="left:30px;width:166.3px;top:275.19px">Data Accuracy</div>
<div class="td num" style="left:196.3px;width:115.8px;top:275.19px">4</div>
<div class="td num" style="left:312.1px;width:80.3px;top:275.19px">4</div>
<div class="td num" style="left:392.4px;width:79.7px;top:275.19px">4</div>
<div class="td num" style="left:472.1px;width:73.1px;top:275.19px">3</div>
<div class="td num" style="left:545.2px;width:80.8px;top:275.19px">4</div>
<div class="td sec" style="left:30px;width:166.3px;top:288.34px">Voice of the Customer</div>
<div class="td num" style="left:196.3px;width:115.8px;top:288.34px">5</div>
<div class="td num" style="left:312.1px;width:80.3px;top:288.34px">5</div>
<div class="td num" style="left:392.4px;width:79.7px;top:288.34px">3</div>
<div class="td num" style="left:472.1px;width:73.1px;top:288.34px">2</div>
<div class="td num" style="left:545.2px;width:80.8px;top:288.34px">4</div>
<div class="td sec" style="left:30px;width:166.3px;top:301.5px">Data Utilization</div>
<div class="td num" style="left:196.3px;width:115.8px;top:301.5px">4</div>
<div class="td num" style="left:312.1px;width:80.3px;top:301.5px">4</div>
<div class="td num" style="left:392.4px;width:79.7px;top:301.5px">5</div>
<div class="td num" style="left:472.1px;width:73.1px;top:301.5px">5</div>
<div class="td num" style="left:545.2px;width:80.8px;top:301.5px">2</div>
<div class="td sec" style="left:30px;width:166.3px;top:314.65px">Process Optimization</div>
<div class="td num" style="left:196.3px;width:115.8px;top:314.65px">5</div>
<div class="td num" style="left:312.1px;width:80.3px;top:314.65px">5</div>
<div class="td num" style="left:392.4px;width:79.7px;top:314.65px">3</div>
<div class="td num" style="left:472.1px;width:73.1px;top:314.65px">5</div>
<div class="td num" style="left:545.2px;width:80.8px;top:314.65px">3</div>
<div class="td sec" style="left:30px;width:166.3px;top:327.81px">Data Collection</div>
<div class="td num" style="left:196.3px;width:115.8px;top:327.81px">5</div>
<div class="td num" style="left:312.1px;width:80.3px;top:327.81px">5</div>
<div class="td num" style="left:392.4px;width:79.7px;top:327.81px">4</div>
<div class="td num" style="left:472.1px;width:73.1px;top:327.81px">4</div>
<div class="td num" style="left:545.2px;width:80.8px;top:327.81px">4</div>
<div class="td sec" style="left:30px;width:166.3px;top:340.96px">Consistency &amp; Continuity in Service</div>
<div class="td num" style="left:196.3px;width:115.8px;top:340.96px">5</div>
<div class="td num" style="left:312.1px;width:80.3px;top:340.96px">5</div>
<div class="td num" style="left:392.4px;width:79.7px;top:340.96px">4</div>
<div class="td num" style="left:472.1px;width:73.1px;top:340.96px">4</div>
<div class="td num" style="left:545.2px;width:80.8px;top:340.96px">5</div>
</div>
<svg class="abs" style="left:640px;top:660px" width="384" height="350" viewBox="640 660 384 350">
<rect x="787.3" y="680.6" width="68" height="10.7" fill="#cccccc"/>
<text x="821.3" y="687.6" font-size="4.6" fill="#1a1a1a" stroke="#1a1a1a" stroke-width="0.12" text-anchor="middle" font-weight="bold">1.00</text>
<rect x="773.7" y="692.64" width="95.2" height="10.7" fill="#55a7ea"/>
<text x="821.3" y="699.64" font-size="4.6" fill="#1a1a1a" stroke="#1a1a1a" stroke-width="0.12" text-anchor="middle" font-weight="bold">1.40</text>
<rect x="760.1" y="704.68" width="122.4" height="10.7" fill="#59da86"/>
<text x="821.3" y="711.68" font-size="4.6" fill="#1a1a1a" stroke="#1a1a1a" stroke-width="0.12" text-anchor="middle" font-weight="bold">1.80</text>
<rect x="753.3" y="716.72" width="136" height="10.7" fill="#59da86"/>
<text x="821.3" y="723.72" font-size="4.6" fill="#1a1a1a" stroke="#1a1a1a" stroke-width="0.12" text-anchor="middle" font-weight="bold">2.00</text>
<rect x="746.5" y="728.76" width="149.6" height="10.7" fill="#59da86"/>
<text x="821.3" y="735.76" font-size="4.6" fill="#1a1a1a" stroke="#1a1a1a" stroke-width="0.12" text-anchor="middle" font-weight="bold">2.20</text>
<rect x="746.5" y="740.8" width="149.6" height="10.7" fill="#f3b02e"/>
<text x="821.3" y="747.8" font-size="4.6" fill="#1a1a1a" stroke="#1a1a1a" stroke-width="0.12" text-anchor="middle" font-weight="bold">2.20</text>
<rect x="746.5" y="752.84" width="149.6" height="10.7" fill="#f3b02e"/>
<text x="821.3" y="759.84" font-size="4.6" fill="#1a1a1a" stroke="#1a1a1a" stroke-width="0.12" text-anchor="middle" font-weight="bold">2.20</text>
<rect x="739.7" y="764.88" width="163.2" height="10.7" fill="#55a7ea"/>
<text x="821.3" y="771.88" font-size="4.6" fill="#1a1a1a" stroke="#1a1a1a" stroke-width="0.12" text-anchor="middle" font-weight="bold">2.40</text>
<rect x="739.7" y="776.92" width="163.2" height="10.7" fill="#f3b02e"/>
<text x="821.3" y="783.92" font-size="4.6" fill="#1a1a1a" stroke="#1a1a1a" stroke-width="0.12" text-anchor="middle" font-weight="bold">2.40</text>
<rect x="739.7" y="788.96" width="163.2" height="10.7" fill="#f3b02e"/>
<text x="821.3" y="795.96" font-size="4.6" fill="#1a1a1a" stroke="#1a1a1a" stroke-width="0.12" text-anchor="middle" font-weight="bold">2.40</text>
<rect x="732.9" y="801" width="176.8" height="10.7" fill="#59da86"/>
<text x="821.3" y="808" font-size="4.6" fill="#1a1a1a" stroke="#1a1a1a" stroke-width="0.12" text-anchor="middle" font-weight="bold">2.60</text>
<rect x="732.9" y="813.04" width="176.8" height="10.7" fill="#55a7ea"/>
<text x="821.3" y="820.04" font-size="4.6" fill="#1a1a1a" stroke="#1a1a1a" stroke-width="0.12" text-anchor="middle" font-weight="bold">2.60</text>
<rect x="726.1" y="825.08" width="190.4" height="10.7" fill="#59da86"/>
<text x="821.3" y="832.08" font-size="4.6" fill="#1a1a1a" stroke="#1a1a1a" stroke-width="0.12" text-anchor="middle" font-weight="bold">2.80</text>
<rect x="719.3" y="837.12" width="204" height="10.7" fill="#f3b02e"/>
<text x="821.3" y="844.12" font-size="4.6" fill="#1a1a1a" stroke="#1a1a1a" stroke-width="0.12" text-anchor="middle" font-weight="bold">3.00</text>
<rect x="719.3" y="849.16" width="204" height="10.7" fill="#59da86"/>
<text x="821.3" y="856.16" font-size="4.6" fill="#1a1a1a" stroke="#1a1a1a" stroke-width="0.12" text-anchor="middle" font-weight="bold">3.00</text>
<rect x="719.3" y="861.2" width="204" height="10.7" fill="#55a7ea"/>
<text x="821.3" y="868.2" font-size="4.6" fill="#1a1a1a" stroke="#1a1a1a" stroke-width="0.12" text-anchor="middle" font-weight="bold">3.00</text>
<rect x="719.3" y="873.24" width="204" height="10.7" fill="#f3b02e"/>
<text x="821.3" y="880.24" font-size="4.6" fill="#1a1a1a" stroke="#1a1a1a" stroke-width="0.12" text-anchor="middle" font-weight="bold">3.00</text>
<rect x="712.5" y="885.28" width="217.6" height="10.7" fill="#59da86"/>
<text x="821.3" y="892.28" font-size="4.6" fill="#1a1a1a" stroke="#1a1a1a" stroke-width="0.12" text-anchor="middle" font-weight="bold">3.20</text>
<rect x="698.9" y="897.32" width="244.8" height="10.7" fill="#55a7ea"/>
<text x="821.3" y="904.32" font-size="4.6" fill="#1a1a1a" stroke="#1a1a1a" stroke-width="0.12" text-anchor="middle" font-weight="bold">3.60</text>
<rect x="692.1" y="909.36" width="258.4" height="10.7" fill="#f3b02e"/>
<text x="821.3" y="916.36" font-size="4.6" fill="#1a1a1a" stroke="#1a1a1a" stroke-width="0.12" text-anchor="middle" font-weight="bold">3.80</text>
<rect x="692.1" y="921.4" width="258.4" height="10.7" fill="#59da86"/>
<text x="821.3" y="928.4" font-size="4.6" fill="#1a1a1a" stroke="#1a1a1a" stroke-width="0.12" text-anchor="middle" font-weight="bold">3.80</text>
<rect x="685.3" y="933.44" width="272" height="10.7" fill="#55a7ea"/>
<text x="821.3" y="940.44" font-size="4.6" fill="#1a1a1a" stroke="#1a1a1a" stroke-width="0.12" text-anchor="middle" font-weight="bold">4.00</text>
<rect x="678.5" y="945.48" width="285.6" height="10.7" fill="#55a7ea"/>
<text x="821.3" y="952.48" font-size="4.6" fill="#1a1a1a" stroke="#1a1a1a" stroke-width="0.12" text-anchor="middle" font-weight="bold">4.20</text>
<rect x="671.7" y="957.52" width="299.2" height="10.7" fill="#55a7ea"/>
<text x="821.3" y="964.52" font-size="4.6" fill="#1a1a1a" stroke="#1a1a1a" stroke-width="0.12" text-anchor="middle" font-weight="bold">4.40</text>
<rect x="664.9" y="969.56" width="312.8" height="10.7" fill="#f3b02e"/>
<text x="821.3" y="976.56" font-size="4.6" fill="#1a1a1a" stroke="#1a1a1a" stroke-width="0.12" text-anchor="middle" font-weight="bold">4.60</text>
<rect x="651.3" y="981.6" width="340" height="10.7" fill="#cccccc"/>
<text x="821.3" y="988.6" font-size="4.6" fill="#1a1a1a" stroke="#1a1a1a" stroke-width="0.12" text-anchor="middle" font-weight="bold">5.00</text>
<line x1="646.2" y1="810" x2="647.8" y2="805.8" stroke="#5b5f6e" stroke-width="1.2" stroke-linecap="round"/>
</svg>
</div>
<div class="abs ttl" style="left:588px;top:70.48px;color:#f3ae30;letter-spacing:2.67px;transform:skewX(-4deg) scaleX(0.4723);text-shadow:-2.96px 0 0 #f3ae30,-1.48px 0 0 #f3ae30,1.48px 0 0 #f3ae30,2.96px 0 0 #f3ae30">Ease</div>
<div class="abs ttl" style="left:658px;top:133.19px;color:#0a9aff;letter-spacing:2.46px;transform:skewX(-4deg) scaleX(0.5127);text-shadow:-2.73px 0 0 #0a9aff,-1.37px 0 0 #0a9aff,1.37px 0 0 #0a9aff,2.73px 0 0 #0a9aff">Effectiveness</div>
<div class="abs ttl" style="left:818.4px;top:197.49px;color:#08bc5e;letter-spacing:2.52px;transform:skewX(-4deg) scaleX(0.5005);text-shadow:-2.8px 0 0 #08bc5e,-1.4px 0 0 #08bc5e,1.4px 0 0 #08bc5e,2.8px 0 0 #08bc5e">Emotion</div>
</body></html>
